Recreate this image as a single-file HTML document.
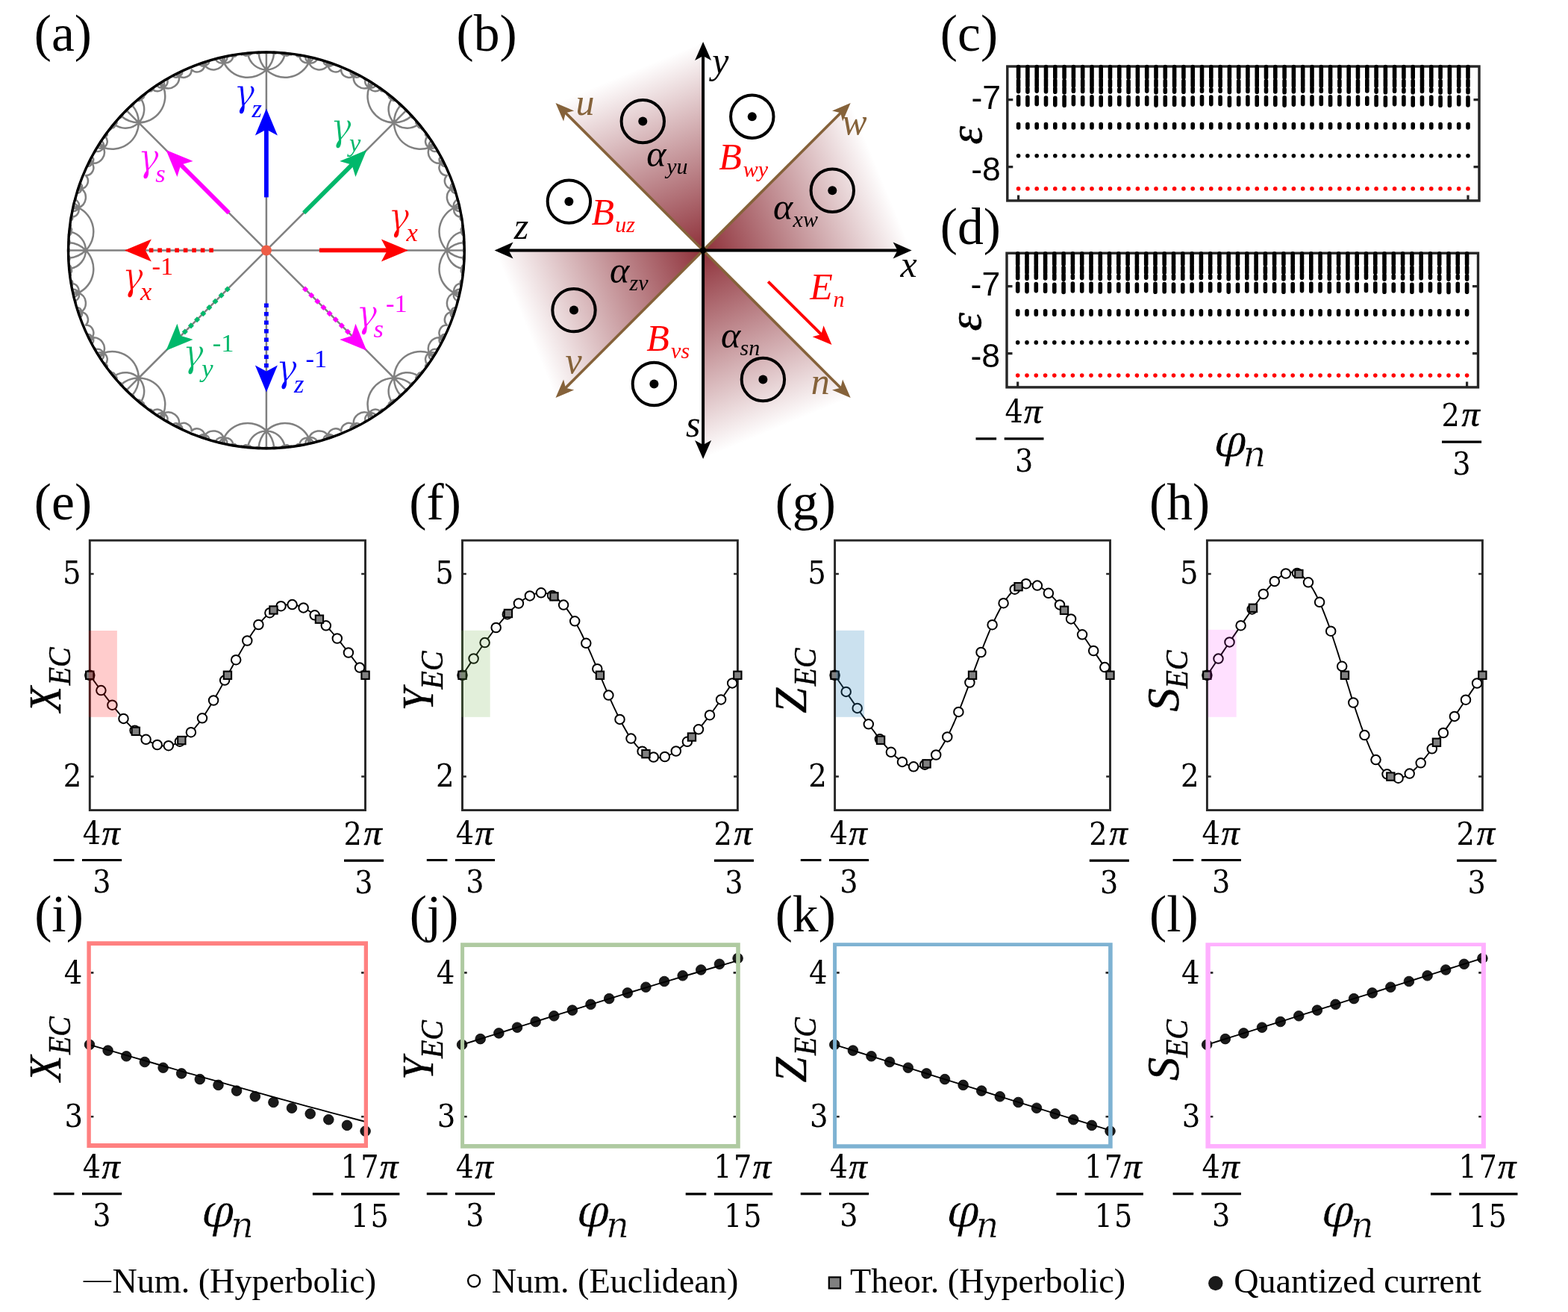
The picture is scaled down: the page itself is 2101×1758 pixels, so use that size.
<!DOCTYPE html>
<html lang="en"><head><meta charset="utf-8"><title>Figure</title>
<style>html,body{margin:0;padding:0;background:#fff}svg{display:block}text{white-space:pre}</style></head>
<body>
<svg xmlns="http://www.w3.org/2000/svg" width="2101" height="1758" viewBox="0 0 2101 1758">
<rect width="2101" height="1758" fill="#fff"/>
<g id="panel-a">
<path d="M356.9 335.4L598.9 335.4M356.9 335.4L528.0 164.3M356.9 335.4L356.9 93.4M356.9 335.4L185.8 164.3M356.9 335.4L114.9 335.4M356.9 335.4L185.8 506.5M356.9 335.4L356.9 577.4M356.9 335.4L528.0 506.5M598.9 335.4L621.6 335.4M598.9 335.4A35.4 35.4 0 0 1 621.2 325.1M598.9 335.4A25.1 25.1 0 0 1 619.3 310.8M598.9 335.4A35.4 35.4 0 0 1 608.7 278.4M598.9 335.4A35.4 35.4 0 0 0 608.7 392.4M598.9 335.4A25.1 25.1 0 0 0 619.3 360.0M598.9 335.4A35.4 35.4 0 0 0 621.2 345.7M528.0 164.3A35.4 35.4 0 0 0 551.1 155.8M528.0 164.3L544.1 148.2M528.0 164.3A35.4 35.4 0 0 1 536.5 141.2M528.0 164.3A25.1 25.1 0 0 1 525.0 132.4M528.0 164.3A35.4 35.4 0 0 1 494.6 117.0M528.0 164.3A35.4 35.4 0 0 0 575.3 197.7M528.0 164.3A25.1 25.1 0 0 0 559.9 167.3M356.9 93.4A25.1 25.1 0 0 0 381.5 73.0M356.9 93.4A35.4 35.4 0 0 0 367.2 71.1M356.9 93.4L356.9 70.7M356.9 93.4A35.4 35.4 0 0 1 346.6 71.1M356.9 93.4A25.1 25.1 0 0 1 332.3 73.0M356.9 93.4A35.4 35.4 0 0 1 299.9 83.6M356.9 93.4A35.4 35.4 0 0 0 413.9 83.6M185.8 164.3A35.4 35.4 0 0 0 219.2 117.0M185.8 164.3A25.1 25.1 0 0 0 188.8 132.4M185.8 164.3A35.4 35.4 0 0 0 177.3 141.2M185.8 164.3L169.7 148.2M185.8 164.3A35.4 35.4 0 0 1 162.7 155.8M185.8 164.3A25.1 25.1 0 0 1 153.9 167.3M185.8 164.3A35.4 35.4 0 0 1 138.5 197.7M114.9 335.4A35.4 35.4 0 0 0 105.1 278.4M114.9 335.4A25.1 25.1 0 0 0 94.5 310.8M114.9 335.4A35.4 35.4 0 0 0 92.6 325.1M114.9 335.4L92.2 335.4M114.9 335.4A35.4 35.4 0 0 1 92.6 345.7M114.9 335.4A25.1 25.1 0 0 1 94.5 360.0M114.9 335.4A35.4 35.4 0 0 1 105.1 392.4M185.8 506.5A35.4 35.4 0 0 1 219.2 553.8M185.8 506.5A35.4 35.4 0 0 0 138.5 473.1M185.8 506.5A25.1 25.1 0 0 0 153.9 503.5M185.8 506.5A35.4 35.4 0 0 0 162.7 515.0M185.8 506.5L169.7 522.6M185.8 506.5A35.4 35.4 0 0 1 177.3 529.6M185.8 506.5A25.1 25.1 0 0 1 188.8 538.4M356.9 577.4A25.1 25.1 0 0 1 381.5 597.8M356.9 577.4A35.4 35.4 0 0 1 413.9 587.2M356.9 577.4A35.4 35.4 0 0 0 299.9 587.2M356.9 577.4A25.1 25.1 0 0 0 332.3 597.8M356.9 577.4A35.4 35.4 0 0 0 346.6 599.7M356.9 577.4L356.9 600.1M356.9 577.4A35.4 35.4 0 0 1 367.2 599.7M528.0 506.5A35.4 35.4 0 0 1 551.1 515.0M528.0 506.5A25.1 25.1 0 0 1 559.9 503.5M528.0 506.5A35.4 35.4 0 0 1 575.3 473.1M528.0 506.5A35.4 35.4 0 0 0 494.6 553.8M528.0 506.5A25.1 25.1 0 0 0 525.0 538.4M528.0 506.5A35.4 35.4 0 0 0 536.5 529.6M528.0 506.5L544.1 522.6M621.6 335.4A1.7 1.7 0 0 1 622.7 334.9M621.6 335.4A1.2 1.2 0 0 1 622.7 334.2M621.6 335.4A1.7 1.7 0 0 1 622.4 332.6M621.6 335.4A1.7 1.7 0 0 0 622.4 338.2M621.6 335.4A1.2 1.2 0 0 0 622.7 336.6M621.6 335.4A1.7 1.7 0 0 0 622.7 335.9M621.2 325.1A2.0 2.0 0 0 0 622.5 325.6M621.2 325.1A35.4 35.4 0 0 1 622.5 325.0M621.2 325.1A1.9 1.9 0 0 1 622.5 324.5M621.2 325.1A1.4 1.4 0 0 1 622.4 323.7M621.2 325.1A2.0 2.0 0 0 1 622.0 321.6M621.2 325.1A1.9 1.9 0 0 0 622.3 328.2M621.2 325.1A1.4 1.4 0 0 0 622.5 326.4M619.3 310.8A2.4 2.4 0 0 0 621.6 312.7M619.3 310.8A3.7 3.7 0 0 0 621.6 311.4M619.3 310.8A25.1 25.1 0 0 1 621.5 310.5M619.3 310.8A3.0 3.0 0 0 1 621.4 309.5M619.3 310.8A2.4 2.4 0 0 1 621.1 308.0M619.3 310.8A3.7 3.7 0 0 1 620.0 304.3M619.3 310.8A3.0 3.0 0 0 0 621.5 315.5M608.7 278.4A9.3 9.3 0 0 0 617.4 290.7M608.7 278.4A8.0 8.0 0 0 0 616.9 282.9M608.7 278.4A14.7 14.7 0 0 0 616.3 278.9M608.7 278.4A35.4 35.4 0 0 1 615.7 275.9M608.7 278.4A9.3 9.3 0 0 1 614.8 272.6M608.7 278.4A8.0 8.0 0 0 1 613.0 267.4M608.7 278.4A14.7 14.7 0 0 1 604.8 252.8M608.7 392.4A9.3 9.3 0 0 1 617.4 380.1M608.7 392.4A14.7 14.7 0 0 0 604.8 418.0M608.7 392.4A8.0 8.0 0 0 0 613.0 403.4M608.7 392.4A9.3 9.3 0 0 0 614.8 398.2M608.7 392.4A35.4 35.4 0 0 0 615.7 394.9M608.7 392.4A14.7 14.7 0 0 1 616.3 391.9M608.7 392.4A8.0 8.0 0 0 1 616.9 387.9M619.3 360.0A2.4 2.4 0 0 1 621.6 358.1M619.3 360.0A3.0 3.0 0 0 1 621.5 355.3M619.3 360.0A3.7 3.7 0 0 0 620.0 366.5M619.3 360.0A2.4 2.4 0 0 0 621.1 362.8M619.3 360.0A3.0 3.0 0 0 0 621.4 361.3M619.3 360.0A25.1 25.1 0 0 0 621.5 360.3M619.3 360.0A3.7 3.7 0 0 1 621.6 359.4M621.2 345.7A2.0 2.0 0 0 1 622.5 345.2M621.2 345.7A1.4 1.4 0 0 1 622.5 344.4M621.2 345.7A1.9 1.9 0 0 1 622.3 342.6M621.2 345.7A2.0 2.0 0 0 0 622.0 349.2M621.2 345.7A1.4 1.4 0 0 0 622.4 347.1M621.2 345.7A1.9 1.9 0 0 0 622.5 346.3M621.2 345.7A35.4 35.4 0 0 0 622.5 345.8M551.1 155.8A35.4 35.4 0 0 0 552.1 154.9M551.1 155.8A2.0 2.0 0 0 1 551.7 154.5M551.1 155.8A1.4 1.4 0 0 1 551.1 153.9M551.1 155.8A1.9 1.9 0 0 1 549.7 152.8M551.1 155.8A2.0 2.0 0 0 0 554.1 157.7M551.1 155.8A1.4 1.4 0 0 0 552.9 156.0M551.1 155.8A1.9 1.9 0 0 0 552.4 155.3M544.1 148.2A1.7 1.7 0 0 0 545.2 147.8M544.1 148.2A1.7 1.7 0 0 1 544.5 147.1M544.1 148.2A1.2 1.2 0 0 1 544.0 146.6M544.1 148.2A1.7 1.7 0 0 1 542.7 145.7M544.1 148.2A1.7 1.7 0 0 0 546.6 149.6M544.1 148.2A1.2 1.2 0 0 0 545.7 148.3M536.5 141.2A1.4 1.4 0 0 0 538.4 141.2M536.5 141.2A2.0 2.0 0 0 0 537.8 140.6M536.5 141.2A35.4 35.4 0 0 1 537.4 140.2M536.5 141.2A1.9 1.9 0 0 1 537.0 139.9M536.5 141.2A1.4 1.4 0 0 1 536.3 139.4M536.5 141.2A2.0 2.0 0 0 1 534.6 138.2M536.5 141.2A1.9 1.9 0 0 0 539.5 142.6M525.0 132.4A3.0 3.0 0 0 0 529.9 134.3M525.0 132.4A2.4 2.4 0 0 0 528.0 132.2M525.0 132.4A3.7 3.7 0 0 0 527.1 131.3M525.0 132.4A25.1 25.1 0 0 1 526.4 130.7M525.0 132.4A3.0 3.0 0 0 1 525.6 130.0M525.0 132.4A2.4 2.4 0 0 1 524.4 129.2M525.0 132.4A3.7 3.7 0 0 1 521.0 127.4M494.6 117.0A9.3 9.3 0 0 0 509.5 119.6M494.6 117.0A8.0 8.0 0 0 0 503.6 114.4M494.6 117.0A14.7 14.7 0 0 0 500.4 112.0M494.6 117.0A35.4 35.4 0 0 1 497.8 110.3M494.6 117.0A9.3 9.3 0 0 1 494.8 108.6M494.6 117.0A8.0 8.0 0 0 1 489.9 106.3M494.6 117.0A14.7 14.7 0 0 1 473.8 101.7M575.3 197.7A8.0 8.0 0 0 1 577.9 188.7M575.3 197.7A9.3 9.3 0 0 1 572.7 182.8M575.3 197.7A14.7 14.7 0 0 0 590.6 218.5M575.3 197.7A8.0 8.0 0 0 0 586.0 202.4M575.3 197.7A9.3 9.3 0 0 0 583.7 197.5M575.3 197.7A35.4 35.4 0 0 0 582.0 194.5M575.3 197.7A14.7 14.7 0 0 1 580.3 191.9M559.9 167.3A3.7 3.7 0 0 1 561.0 165.2M559.9 167.3A2.4 2.4 0 0 1 560.1 164.3M559.9 167.3A3.0 3.0 0 0 1 558.0 162.4M559.9 167.3A3.7 3.7 0 0 0 564.9 171.3M559.9 167.3A2.4 2.4 0 0 0 563.1 167.9M559.9 167.3A3.0 3.0 0 0 0 562.3 166.7M559.9 167.3A25.1 25.1 0 0 0 561.6 165.9M381.5 73.0A25.1 25.1 0 0 0 381.8 70.8M381.5 73.0A3.7 3.7 0 0 1 380.9 70.7M381.5 73.0A2.4 2.4 0 0 1 379.6 70.7M381.5 73.0A3.0 3.0 0 0 1 376.8 70.8M381.5 73.0A3.7 3.7 0 0 0 388.0 72.3M381.5 73.0A2.4 2.4 0 0 0 384.3 71.2M381.5 73.0A3.0 3.0 0 0 0 382.8 70.9M367.2 71.1A1.9 1.9 0 0 0 367.8 69.8M367.2 71.1A35.4 35.4 0 0 0 367.3 69.8M367.2 71.1A2.0 2.0 0 0 1 366.7 69.8M367.2 71.1A1.4 1.4 0 0 1 365.9 69.8M367.2 71.1A1.9 1.9 0 0 1 364.1 70.0M367.2 71.1A2.0 2.0 0 0 0 370.7 70.3M367.2 71.1A1.4 1.4 0 0 0 368.6 69.9M356.9 70.7A1.2 1.2 0 0 0 358.1 69.6M356.9 70.7A1.7 1.7 0 0 0 357.4 69.6M356.9 70.7A1.7 1.7 0 0 1 356.4 69.6M356.9 70.7A1.2 1.2 0 0 1 355.7 69.6M356.9 70.7A1.7 1.7 0 0 1 354.1 69.9M356.9 70.7A1.7 1.7 0 0 0 359.7 69.9M346.6 71.1A1.9 1.9 0 0 0 349.7 70.0M346.6 71.1A1.4 1.4 0 0 0 347.9 69.8M346.6 71.1A2.0 2.0 0 0 0 347.1 69.8M346.6 71.1A35.4 35.4 0 0 1 346.5 69.8M346.6 71.1A1.9 1.9 0 0 1 346.0 69.8M346.6 71.1A1.4 1.4 0 0 1 345.2 69.9M346.6 71.1A2.0 2.0 0 0 1 343.1 70.3M332.3 73.0A3.0 3.0 0 0 0 337.0 70.8M332.3 73.0A2.4 2.4 0 0 0 334.2 70.7M332.3 73.0A3.7 3.7 0 0 0 332.9 70.7M332.3 73.0A25.1 25.1 0 0 1 332.0 70.8M332.3 73.0A3.0 3.0 0 0 1 331.0 70.9M332.3 73.0A2.4 2.4 0 0 1 329.5 71.2M332.3 73.0A3.7 3.7 0 0 1 325.8 72.3M299.9 83.6A14.7 14.7 0 0 1 274.3 87.5M299.9 83.6A9.3 9.3 0 0 0 312.2 74.9M299.9 83.6A8.0 8.0 0 0 0 304.4 75.4M299.9 83.6A14.7 14.7 0 0 0 300.4 76.0M299.9 83.6A35.4 35.4 0 0 1 297.4 76.6M299.9 83.6A9.3 9.3 0 0 1 294.1 77.5M299.9 83.6A8.0 8.0 0 0 1 288.9 79.3M413.9 83.6A14.7 14.7 0 0 1 413.4 76.0M413.9 83.6A8.0 8.0 0 0 1 409.4 75.4M413.9 83.6A9.3 9.3 0 0 1 401.6 74.9M413.9 83.6A14.7 14.7 0 0 0 439.5 87.5M413.9 83.6A8.0 8.0 0 0 0 424.9 79.3M413.9 83.6A9.3 9.3 0 0 0 419.7 77.5M413.9 83.6A35.4 35.4 0 0 0 416.4 76.6M219.2 117.0A35.4 35.4 0 0 0 216.0 110.3M219.2 117.0A14.7 14.7 0 0 1 213.4 112.0M219.2 117.0A8.0 8.0 0 0 1 210.2 114.4M219.2 117.0A9.3 9.3 0 0 1 204.3 119.6M219.2 117.0A14.7 14.7 0 0 0 240.0 101.7M219.2 117.0A8.0 8.0 0 0 0 223.9 106.3M219.2 117.0A9.3 9.3 0 0 0 219.0 108.6M188.8 132.4A3.0 3.0 0 0 0 188.2 130.0M188.8 132.4A25.1 25.1 0 0 0 187.4 130.7M188.8 132.4A3.7 3.7 0 0 1 186.7 131.3M188.8 132.4A2.4 2.4 0 0 1 185.8 132.2M188.8 132.4A3.0 3.0 0 0 1 183.9 134.3M188.8 132.4A3.7 3.7 0 0 0 192.8 127.4M188.8 132.4A2.4 2.4 0 0 0 189.4 129.2M177.3 141.2A1.4 1.4 0 0 0 177.5 139.4M177.3 141.2A1.9 1.9 0 0 0 176.8 139.9M177.3 141.2A35.4 35.4 0 0 0 176.4 140.2M177.3 141.2A2.0 2.0 0 0 1 176.0 140.6M177.3 141.2A1.4 1.4 0 0 1 175.4 141.2M177.3 141.2A1.9 1.9 0 0 1 174.3 142.6M177.3 141.2A2.0 2.0 0 0 0 179.2 138.2M169.7 148.2A1.7 1.7 0 0 0 171.1 145.7M169.7 148.2A1.2 1.2 0 0 0 169.8 146.6M169.7 148.2A1.7 1.7 0 0 0 169.3 147.1M169.7 148.2A1.7 1.7 0 0 1 168.6 147.8M169.7 148.2A1.2 1.2 0 0 1 168.1 148.3M169.7 148.2A1.7 1.7 0 0 1 167.2 149.6M162.7 155.8A1.9 1.9 0 0 0 164.1 152.8M162.7 155.8A1.4 1.4 0 0 0 162.7 153.9M162.7 155.8A2.0 2.0 0 0 0 162.1 154.5M162.7 155.8A35.4 35.4 0 0 1 161.7 154.9M162.7 155.8A1.9 1.9 0 0 1 161.4 155.3M162.7 155.8A1.4 1.4 0 0 1 160.9 156.0M162.7 155.8A2.0 2.0 0 0 1 159.7 157.7M153.9 167.3A3.7 3.7 0 0 1 148.9 171.3M153.9 167.3A3.0 3.0 0 0 0 155.8 162.4M153.9 167.3A2.4 2.4 0 0 0 153.7 164.3M153.9 167.3A3.7 3.7 0 0 0 152.8 165.2M153.9 167.3A25.1 25.1 0 0 1 152.2 165.9M153.9 167.3A3.0 3.0 0 0 1 151.5 166.7M153.9 167.3A2.4 2.4 0 0 1 150.7 167.9M138.5 197.7A8.0 8.0 0 0 1 127.8 202.4M138.5 197.7A14.7 14.7 0 0 1 123.2 218.5M138.5 197.7A9.3 9.3 0 0 0 141.1 182.8M138.5 197.7A8.0 8.0 0 0 0 135.9 188.7M138.5 197.7A14.7 14.7 0 0 0 133.5 191.9M138.5 197.7A35.4 35.4 0 0 1 131.8 194.5M138.5 197.7A9.3 9.3 0 0 1 130.1 197.5M105.1 278.4A9.3 9.3 0 0 0 99.0 272.6M105.1 278.4A35.4 35.4 0 0 0 98.1 275.9M105.1 278.4A14.7 14.7 0 0 1 97.5 278.9M105.1 278.4A8.0 8.0 0 0 1 96.9 282.9M105.1 278.4A9.3 9.3 0 0 1 96.4 290.7M105.1 278.4A14.7 14.7 0 0 0 109.0 252.8M105.1 278.4A8.0 8.0 0 0 0 100.8 267.4M94.5 310.8A2.4 2.4 0 0 0 92.7 308.0M94.5 310.8A3.0 3.0 0 0 0 92.4 309.5M94.5 310.8A25.1 25.1 0 0 0 92.3 310.5M94.5 310.8A3.7 3.7 0 0 1 92.2 311.4M94.5 310.8A2.4 2.4 0 0 1 92.2 312.7M94.5 310.8A3.0 3.0 0 0 1 92.3 315.5M94.5 310.8A3.7 3.7 0 0 0 93.8 304.3M92.6 325.1A2.0 2.0 0 0 0 91.8 321.6M92.6 325.1A1.4 1.4 0 0 0 91.4 323.7M92.6 325.1A1.9 1.9 0 0 0 91.3 324.5M92.6 325.1A35.4 35.4 0 0 0 91.3 325.0M92.6 325.1A2.0 2.0 0 0 1 91.3 325.6M92.6 325.1A1.4 1.4 0 0 1 91.3 326.4M92.6 325.1A1.9 1.9 0 0 1 91.5 328.2M92.2 335.4A1.7 1.7 0 0 0 91.4 332.6M92.2 335.4A1.2 1.2 0 0 0 91.1 334.2M92.2 335.4A1.7 1.7 0 0 0 91.1 334.9M92.2 335.4A1.7 1.7 0 0 1 91.1 335.9M92.2 335.4A1.2 1.2 0 0 1 91.1 336.6M92.2 335.4A1.7 1.7 0 0 1 91.4 338.2M92.6 345.7A2.0 2.0 0 0 1 91.8 349.2M92.6 345.7A1.9 1.9 0 0 0 91.5 342.6M92.6 345.7A1.4 1.4 0 0 0 91.3 344.4M92.6 345.7A2.0 2.0 0 0 0 91.3 345.2M92.6 345.7A35.4 35.4 0 0 1 91.3 345.8M92.6 345.7A1.9 1.9 0 0 1 91.3 346.3M92.6 345.7A1.4 1.4 0 0 1 91.4 347.1M94.5 360.0A2.4 2.4 0 0 1 92.7 362.8M94.5 360.0A3.7 3.7 0 0 1 93.8 366.5M94.5 360.0A3.0 3.0 0 0 0 92.3 355.3M94.5 360.0A2.4 2.4 0 0 0 92.2 358.1M94.5 360.0A3.7 3.7 0 0 0 92.2 359.4M94.5 360.0A25.1 25.1 0 0 1 92.3 360.3M94.5 360.0A3.0 3.0 0 0 1 92.4 361.3M105.1 392.4A9.3 9.3 0 0 1 99.0 398.2M105.1 392.4A8.0 8.0 0 0 1 100.8 403.4M105.1 392.4A14.7 14.7 0 0 1 109.0 418.0M105.1 392.4A9.3 9.3 0 0 0 96.4 380.1M105.1 392.4A8.0 8.0 0 0 0 96.9 387.9M105.1 392.4A14.7 14.7 0 0 0 97.5 391.9M105.1 392.4A35.4 35.4 0 0 1 98.1 394.9M219.2 553.8A35.4 35.4 0 0 1 216.0 560.5M219.2 553.8A9.3 9.3 0 0 1 219.0 562.2M219.2 553.8A8.0 8.0 0 0 1 223.9 564.5M219.2 553.8A14.7 14.7 0 0 1 240.0 569.1M219.2 553.8A9.3 9.3 0 0 0 204.3 551.2M219.2 553.8A8.0 8.0 0 0 0 210.2 556.4M219.2 553.8A14.7 14.7 0 0 0 213.4 558.8M138.5 473.1A8.0 8.0 0 0 0 127.8 468.4M138.5 473.1A9.3 9.3 0 0 0 130.1 473.3M138.5 473.1A35.4 35.4 0 0 0 131.8 476.3M138.5 473.1A14.7 14.7 0 0 1 133.5 478.9M138.5 473.1A8.0 8.0 0 0 1 135.9 482.1M138.5 473.1A9.3 9.3 0 0 1 141.1 488.0M138.5 473.1A14.7 14.7 0 0 0 123.2 452.3M153.9 503.5A3.7 3.7 0 0 0 148.9 499.5M153.9 503.5A2.4 2.4 0 0 0 150.7 502.9M153.9 503.5A3.0 3.0 0 0 0 151.5 504.1M153.9 503.5A25.1 25.1 0 0 0 152.2 504.9M153.9 503.5A3.7 3.7 0 0 1 152.8 505.6M153.9 503.5A2.4 2.4 0 0 1 153.7 506.5M153.9 503.5A3.0 3.0 0 0 1 155.8 508.4M162.7 515.0A2.0 2.0 0 0 0 159.7 513.1M162.7 515.0A1.4 1.4 0 0 0 160.9 514.8M162.7 515.0A1.9 1.9 0 0 0 161.4 515.5M162.7 515.0A35.4 35.4 0 0 0 161.7 515.9M162.7 515.0A2.0 2.0 0 0 1 162.1 516.3M162.7 515.0A1.4 1.4 0 0 1 162.7 516.9M162.7 515.0A1.9 1.9 0 0 1 164.1 518.0M169.7 522.6A1.7 1.7 0 0 1 171.1 525.1M169.7 522.6A1.7 1.7 0 0 0 167.2 521.2M169.7 522.6A1.2 1.2 0 0 0 168.1 522.5M169.7 522.6A1.7 1.7 0 0 0 168.6 523.0M169.7 522.6A1.7 1.7 0 0 1 169.3 523.7M169.7 522.6A1.2 1.2 0 0 1 169.8 524.2M177.3 529.6A1.4 1.4 0 0 1 177.5 531.4M177.3 529.6A2.0 2.0 0 0 1 179.2 532.6M177.3 529.6A1.9 1.9 0 0 0 174.3 528.2M177.3 529.6A1.4 1.4 0 0 0 175.4 529.6M177.3 529.6A2.0 2.0 0 0 0 176.0 530.2M177.3 529.6A35.4 35.4 0 0 1 176.4 530.6M177.3 529.6A1.9 1.9 0 0 1 176.8 530.9M188.8 538.4A3.0 3.0 0 0 1 188.2 540.8M188.8 538.4A2.4 2.4 0 0 1 189.4 541.6M188.8 538.4A3.7 3.7 0 0 1 192.8 543.4M188.8 538.4A3.0 3.0 0 0 0 183.9 536.5M188.8 538.4A2.4 2.4 0 0 0 185.8 538.6M188.8 538.4A3.7 3.7 0 0 0 186.7 539.5M188.8 538.4A25.1 25.1 0 0 1 187.4 540.1M381.5 597.8A25.1 25.1 0 0 1 381.8 600.0M381.5 597.8A3.0 3.0 0 0 1 382.8 599.9M381.5 597.8A2.4 2.4 0 0 1 384.3 599.6M381.5 597.8A3.7 3.7 0 0 1 388.0 598.5M381.5 597.8A3.0 3.0 0 0 0 376.8 600.0M381.5 597.8A2.4 2.4 0 0 0 379.6 600.1M381.5 597.8A3.7 3.7 0 0 0 380.9 600.1M413.9 587.2A14.7 14.7 0 0 0 413.4 594.8M413.9 587.2A35.4 35.4 0 0 1 416.4 594.2M413.9 587.2A9.3 9.3 0 0 1 419.7 593.3M413.9 587.2A8.0 8.0 0 0 1 424.9 591.5M413.9 587.2A14.7 14.7 0 0 1 439.5 583.3M413.9 587.2A9.3 9.3 0 0 0 401.6 595.9M413.9 587.2A8.0 8.0 0 0 0 409.4 595.4M299.9 587.2A14.7 14.7 0 0 0 274.3 583.3M299.9 587.2A8.0 8.0 0 0 0 288.9 591.5M299.9 587.2A9.3 9.3 0 0 0 294.1 593.3M299.9 587.2A35.4 35.4 0 0 0 297.4 594.2M299.9 587.2A14.7 14.7 0 0 1 300.4 594.8M299.9 587.2A8.0 8.0 0 0 1 304.4 595.4M299.9 587.2A9.3 9.3 0 0 1 312.2 595.9M332.3 597.8A3.7 3.7 0 0 0 325.8 598.5M332.3 597.8A2.4 2.4 0 0 0 329.5 599.6M332.3 597.8A3.0 3.0 0 0 0 331.0 599.9M332.3 597.8A25.1 25.1 0 0 0 332.0 600.0M332.3 597.8A3.7 3.7 0 0 1 332.9 600.1M332.3 597.8A2.4 2.4 0 0 1 334.2 600.1M332.3 597.8A3.0 3.0 0 0 1 337.0 600.0M346.6 599.7A1.9 1.9 0 0 1 349.7 600.8M346.6 599.7A2.0 2.0 0 0 0 343.1 600.5M346.6 599.7A1.4 1.4 0 0 0 345.2 600.9M346.6 599.7A1.9 1.9 0 0 0 346.0 601.0M346.6 599.7A35.4 35.4 0 0 0 346.5 601.0M346.6 599.7A2.0 2.0 0 0 1 347.1 601.0M346.6 599.7A1.4 1.4 0 0 1 347.9 601.0M356.9 600.1A1.2 1.2 0 0 1 358.1 601.2M356.9 600.1A1.7 1.7 0 0 1 359.7 600.9M356.9 600.1A1.7 1.7 0 0 0 354.1 600.9M356.9 600.1A1.2 1.2 0 0 0 355.7 601.2M356.9 600.1A1.7 1.7 0 0 0 356.4 601.2M356.9 600.1A1.7 1.7 0 0 1 357.4 601.2M367.2 599.7A1.9 1.9 0 0 1 367.8 601.0M367.2 599.7A1.4 1.4 0 0 1 368.6 600.9M367.2 599.7A2.0 2.0 0 0 1 370.7 600.5M367.2 599.7A1.9 1.9 0 0 0 364.1 600.8M367.2 599.7A1.4 1.4 0 0 0 365.9 601.0M367.2 599.7A2.0 2.0 0 0 0 366.7 601.0M367.2 599.7A35.4 35.4 0 0 1 367.3 601.0M551.1 515.0A35.4 35.4 0 0 1 552.1 515.9M551.1 515.0A1.9 1.9 0 0 1 552.4 515.5M551.1 515.0A1.4 1.4 0 0 1 552.9 514.8M551.1 515.0A2.0 2.0 0 0 1 554.1 513.1M551.1 515.0A1.9 1.9 0 0 0 549.7 518.0M551.1 515.0A1.4 1.4 0 0 0 551.1 516.9M551.1 515.0A2.0 2.0 0 0 0 551.7 516.3M559.9 503.5A3.7 3.7 0 0 0 561.0 505.6M559.9 503.5A25.1 25.1 0 0 1 561.6 504.9M559.9 503.5A3.0 3.0 0 0 1 562.3 504.1M559.9 503.5A2.4 2.4 0 0 1 563.1 502.9M559.9 503.5A3.7 3.7 0 0 1 564.9 499.5M559.9 503.5A3.0 3.0 0 0 0 558.0 508.4M559.9 503.5A2.4 2.4 0 0 0 560.1 506.5M575.3 473.1A8.0 8.0 0 0 0 577.9 482.1M575.3 473.1A14.7 14.7 0 0 0 580.3 478.9M575.3 473.1A35.4 35.4 0 0 1 582.0 476.3M575.3 473.1A9.3 9.3 0 0 1 583.7 473.3M575.3 473.1A8.0 8.0 0 0 1 586.0 468.4M575.3 473.1A14.7 14.7 0 0 1 590.6 452.3M575.3 473.1A9.3 9.3 0 0 0 572.7 488.0M494.6 553.8A14.7 14.7 0 0 0 473.8 569.1M494.6 553.8A8.0 8.0 0 0 0 489.9 564.5M494.6 553.8A9.3 9.3 0 0 0 494.8 562.2M494.6 553.8A35.4 35.4 0 0 0 497.8 560.5M494.6 553.8A14.7 14.7 0 0 1 500.4 558.8M494.6 553.8A8.0 8.0 0 0 1 503.6 556.4M494.6 553.8A9.3 9.3 0 0 1 509.5 551.2M525.0 538.4A3.0 3.0 0 0 1 529.9 536.5M525.0 538.4A3.7 3.7 0 0 0 521.0 543.4M525.0 538.4A2.4 2.4 0 0 0 524.4 541.6M525.0 538.4A3.0 3.0 0 0 0 525.6 540.8M525.0 538.4A25.1 25.1 0 0 0 526.4 540.1M525.0 538.4A3.7 3.7 0 0 1 527.1 539.5M525.0 538.4A2.4 2.4 0 0 1 528.0 538.6M536.5 529.6A1.4 1.4 0 0 1 538.4 529.6M536.5 529.6A1.9 1.9 0 0 1 539.5 528.2M536.5 529.6A2.0 2.0 0 0 0 534.6 532.6M536.5 529.6A1.4 1.4 0 0 0 536.3 531.4M536.5 529.6A1.9 1.9 0 0 0 537.0 530.9M536.5 529.6A35.4 35.4 0 0 0 537.4 530.6M536.5 529.6A2.0 2.0 0 0 1 537.8 530.2M544.1 522.6A1.7 1.7 0 0 1 545.2 523.0M544.1 522.6A1.2 1.2 0 0 1 545.7 522.5M544.1 522.6A1.7 1.7 0 0 1 546.6 521.2M544.1 522.6A1.7 1.7 0 0 0 542.7 525.1M544.1 522.6A1.2 1.2 0 0 0 544.0 524.2M544.1 522.6A1.7 1.7 0 0 0 544.5 523.7M622.4 332.6A0.7 0.7 0 0 1 622.5 331.3M622.4 338.2A0.7 0.7 0 0 0 622.5 339.5M622.0 321.6A0.9 0.9 0 0 1 622.1 320.0M622.3 328.2A0.7 0.7 0 0 0 622.5 329.5M620.0 304.3A1.9 1.9 0 0 1 619.9 300.9M620.0 304.3A1.1 1.1 0 0 0 621.0 305.9M620.0 304.3A1.0 1.0 0 0 1 620.7 303.0M621.5 315.5A0.7 0.7 0 0 1 621.8 314.4M621.5 315.5A1.1 1.1 0 0 0 621.9 317.4M617.4 290.7A9.3 9.3 0 0 0 618.9 290.6M617.4 290.7A2.7 2.7 0 0 1 618.8 290.0M617.4 290.7A1.6 1.6 0 0 1 618.6 289.2M617.4 290.7A1.9 1.9 0 0 1 618.1 287.6M617.4 290.7A2.7 2.7 0 0 0 619.0 295.3M617.4 290.7A1.6 1.6 0 0 0 619.1 292.3M617.4 290.7A1.9 1.9 0 0 0 619.0 291.2M616.9 282.9A0.8 0.8 0 0 1 617.1 281.5M616.9 282.9A0.9 0.9 0 0 0 617.6 284.4M614.8 272.6A0.7 0.7 0 0 1 614.8 271.3M613.0 267.4A1.5 1.5 0 0 1 612.8 264.7M613.0 267.4A1.2 1.2 0 0 0 614.2 269.1M613.0 267.4A0.9 0.9 0 0 1 613.5 266.2M604.8 252.8A4.9 4.9 0 0 1 606.5 245.5M604.8 252.8A10.4 10.4 0 0 1 598.9 235.2M604.8 252.8A5.2 5.2 0 0 0 610.7 258.6M604.8 252.8A4.9 4.9 0 0 0 609.9 254.6M604.8 252.8A10.4 10.4 0 0 0 609.3 252.4M604.8 252.8A14.7 14.7 0 0 1 608.7 250.7M604.8 252.8A5.2 5.2 0 0 1 608.0 248.7M617.4 380.1A9.3 9.3 0 0 1 618.9 380.2M617.4 380.1A1.9 1.9 0 0 1 619.0 379.6M617.4 380.1A1.6 1.6 0 0 1 619.1 378.5M617.4 380.1A2.7 2.7 0 0 1 619.0 375.5M617.4 380.1A1.9 1.9 0 0 0 618.1 383.2M617.4 380.1A1.6 1.6 0 0 0 618.6 381.6M617.4 380.1A2.7 2.7 0 0 0 618.8 380.8M604.8 418.0A4.9 4.9 0 0 0 606.5 425.3M604.8 418.0A5.2 5.2 0 0 0 608.0 422.1M604.8 418.0A14.7 14.7 0 0 0 608.7 420.1M604.8 418.0A10.4 10.4 0 0 1 609.3 418.4M604.8 418.0A4.9 4.9 0 0 1 609.9 416.2M604.8 418.0A5.2 5.2 0 0 1 610.7 412.2M604.8 418.0A10.4 10.4 0 0 0 598.9 435.6M613.0 403.4A1.5 1.5 0 0 0 612.8 406.1M613.0 403.4A0.9 0.9 0 0 0 613.5 404.6M613.0 403.4A1.2 1.2 0 0 1 614.2 401.7M614.8 398.2A0.7 0.7 0 0 0 614.8 399.5M616.9 387.9A0.9 0.9 0 0 1 617.6 386.4M616.9 387.9A0.8 0.8 0 0 0 617.1 389.3M621.5 355.3A1.1 1.1 0 0 1 621.9 353.4M621.5 355.3A0.7 0.7 0 0 0 621.8 356.4M620.0 366.5A1.9 1.9 0 0 0 619.9 369.9M620.0 366.5A1.0 1.0 0 0 0 620.7 367.8M620.0 366.5A1.1 1.1 0 0 1 621.0 364.9M622.3 342.6A0.7 0.7 0 0 1 622.5 341.3M622.0 349.2A0.9 0.9 0 0 0 622.1 350.8M549.7 152.8A0.7 0.7 0 0 1 548.9 151.8M554.1 157.7A0.9 0.9 0 0 0 555.3 158.8M542.7 145.7A0.7 0.7 0 0 1 541.9 144.7M546.6 149.6A0.7 0.7 0 0 0 547.6 150.4M534.6 138.2A0.9 0.9 0 0 1 533.5 137.0M539.5 142.6A0.7 0.7 0 0 0 540.5 143.4M529.9 134.3A0.7 0.7 0 0 1 529.4 133.2M529.9 134.3A1.1 1.1 0 0 0 531.5 135.3M521.0 127.4A1.0 1.0 0 0 1 520.5 126.0M521.0 127.4A1.9 1.9 0 0 1 518.5 125.1M521.0 127.4A1.1 1.1 0 0 0 522.7 127.8M509.5 119.6A1.9 1.9 0 0 0 511.0 118.8M509.5 119.6A9.3 9.3 0 0 0 510.5 118.4M509.5 119.6A2.7 2.7 0 0 1 510.0 118.1M509.5 119.6A1.6 1.6 0 0 1 509.3 117.6M509.5 119.6A1.9 1.9 0 0 1 507.8 116.9M509.5 119.6A2.7 2.7 0 0 0 513.9 121.7M509.5 119.6A1.6 1.6 0 0 0 511.8 119.5M503.6 114.4A0.8 0.8 0 0 1 502.8 113.3M503.6 114.4A0.9 0.9 0 0 0 505.2 114.9M494.8 108.6A0.7 0.7 0 0 1 493.9 107.7M489.9 106.3A0.9 0.9 0 0 1 489.4 105.0M489.9 106.3A1.5 1.5 0 0 1 487.9 104.5M489.9 106.3A1.2 1.2 0 0 0 491.9 106.6M473.8 101.7A5.2 5.2 0 0 1 473.1 96.6M473.8 101.7A4.9 4.9 0 0 1 469.8 95.4M473.8 101.7A10.4 10.4 0 0 1 457.1 93.4M473.8 101.7A5.2 5.2 0 0 0 482.1 101.7M473.8 101.7A4.9 4.9 0 0 0 478.6 99.4M473.8 101.7A10.4 10.4 0 0 0 476.7 98.3M473.8 101.7A14.7 14.7 0 0 1 475.0 97.4M577.9 188.7A0.9 0.9 0 0 1 577.4 187.1M577.9 188.7A0.8 0.8 0 0 0 579.0 189.5M572.7 182.8A2.7 2.7 0 0 0 574.2 182.3M572.7 182.8A9.3 9.3 0 0 1 573.9 181.8M572.7 182.8A1.9 1.9 0 0 1 573.5 181.3M572.7 182.8A1.6 1.6 0 0 1 572.8 180.5M572.7 182.8A2.7 2.7 0 0 1 570.6 178.4M572.7 182.8A1.9 1.9 0 0 0 575.4 184.5M572.7 182.8A1.6 1.6 0 0 0 574.7 183.0M590.6 218.5A10.4 10.4 0 0 0 598.9 235.2M590.6 218.5A4.9 4.9 0 0 0 596.9 222.5M590.6 218.5A5.2 5.2 0 0 0 595.7 219.2M590.6 218.5A14.7 14.7 0 0 0 594.9 217.3M590.6 218.5A10.4 10.4 0 0 1 594.0 215.6M590.6 218.5A4.9 4.9 0 0 1 592.9 213.7M590.6 218.5A5.2 5.2 0 0 1 590.6 210.2M586.0 202.4A1.5 1.5 0 0 0 587.8 204.4M586.0 202.4A0.9 0.9 0 0 0 587.3 202.9M586.0 202.4A1.2 1.2 0 0 1 585.7 200.4M583.7 197.5A0.7 0.7 0 0 0 584.6 198.4M558.0 162.4A1.1 1.1 0 0 1 557.0 160.8M558.0 162.4A0.7 0.7 0 0 0 559.1 162.9M564.9 171.3A1.9 1.9 0 0 0 567.2 173.8M564.9 171.3A1.0 1.0 0 0 0 566.3 171.8M564.9 171.3A1.1 1.1 0 0 1 564.5 169.6M376.8 70.8A0.7 0.7 0 0 0 377.9 70.5M376.8 70.8A1.1 1.1 0 0 1 374.9 70.4M388.0 72.3A1.1 1.1 0 0 1 386.4 71.3M388.0 72.3A1.9 1.9 0 0 0 391.4 72.4M388.0 72.3A1.0 1.0 0 0 0 389.3 71.6M364.1 70.0A0.7 0.7 0 0 1 362.8 69.8M370.7 70.3A0.9 0.9 0 0 0 372.3 70.2M354.1 69.9A0.7 0.7 0 0 1 352.8 69.8M359.7 69.9A0.7 0.7 0 0 0 361.0 69.8M349.7 70.0A0.7 0.7 0 0 0 351.0 69.8M343.1 70.3A0.9 0.9 0 0 1 341.5 70.2M337.0 70.8A0.7 0.7 0 0 1 335.9 70.5M337.0 70.8A1.1 1.1 0 0 0 338.9 70.4M325.8 72.3A1.0 1.0 0 0 1 324.5 71.6M325.8 72.3A1.9 1.9 0 0 1 322.4 72.4M325.8 72.3A1.1 1.1 0 0 0 327.4 71.3M274.3 87.5A14.7 14.7 0 0 1 272.2 83.6M274.3 87.5A5.2 5.2 0 0 1 270.2 84.3M274.3 87.5A4.9 4.9 0 0 1 267.0 85.8M274.3 87.5A10.4 10.4 0 0 1 256.7 93.4M274.3 87.5A5.2 5.2 0 0 0 280.1 81.6M274.3 87.5A4.9 4.9 0 0 0 276.1 82.4M274.3 87.5A10.4 10.4 0 0 0 273.9 83.0M312.2 74.9A1.6 1.6 0 0 0 313.8 73.2M312.2 74.9A1.9 1.9 0 0 0 312.7 73.3M312.2 74.9A9.3 9.3 0 0 0 312.1 73.4M312.2 74.9A2.7 2.7 0 0 1 311.5 73.5M312.2 74.9A1.6 1.6 0 0 1 310.7 73.7M312.2 74.9A1.9 1.9 0 0 1 309.1 74.2M312.2 74.9A2.7 2.7 0 0 0 316.8 73.3M304.4 75.4A0.9 0.9 0 0 0 305.9 74.7M304.4 75.4A0.8 0.8 0 0 1 303.0 75.2M294.1 77.5A0.7 0.7 0 0 1 292.8 77.5M288.9 79.3A0.9 0.9 0 0 1 287.7 78.8M288.9 79.3A1.5 1.5 0 0 1 286.2 79.5M288.9 79.3A1.2 1.2 0 0 0 290.6 78.1M409.4 75.4A0.9 0.9 0 0 1 407.9 74.7M409.4 75.4A0.8 0.8 0 0 0 410.8 75.2M401.6 74.9A1.6 1.6 0 0 0 403.1 73.7M401.6 74.9A2.7 2.7 0 0 0 402.3 73.5M401.6 74.9A9.3 9.3 0 0 1 401.7 73.4M401.6 74.9A1.9 1.9 0 0 1 401.1 73.3M401.6 74.9A1.6 1.6 0 0 1 400.0 73.2M401.6 74.9A2.7 2.7 0 0 1 397.0 73.3M401.6 74.9A1.9 1.9 0 0 0 404.7 74.2M439.5 87.5A10.4 10.4 0 0 0 457.1 93.4M439.5 87.5A4.9 4.9 0 0 0 446.8 85.8M439.5 87.5A5.2 5.2 0 0 0 443.6 84.3M439.5 87.5A14.7 14.7 0 0 0 441.6 83.6M439.5 87.5A10.4 10.4 0 0 1 439.9 83.0M439.5 87.5A4.9 4.9 0 0 1 437.7 82.4M439.5 87.5A5.2 5.2 0 0 1 433.7 81.6M424.9 79.3A1.2 1.2 0 0 1 423.2 78.1M424.9 79.3A1.5 1.5 0 0 0 427.6 79.5M424.9 79.3A0.9 0.9 0 0 0 426.1 78.8M419.7 77.5A0.7 0.7 0 0 0 421.0 77.5M210.2 114.4A0.9 0.9 0 0 1 208.6 114.9M210.2 114.4A0.8 0.8 0 0 0 211.0 113.3M204.3 119.6A1.9 1.9 0 0 0 206.0 116.9M204.3 119.6A1.6 1.6 0 0 0 204.5 117.6M204.3 119.6A2.7 2.7 0 0 0 203.8 118.1M204.3 119.6A9.3 9.3 0 0 1 203.3 118.4M204.3 119.6A1.9 1.9 0 0 1 202.8 118.8M204.3 119.6A1.6 1.6 0 0 1 202.0 119.5M204.3 119.6A2.7 2.7 0 0 1 199.9 121.7M240.0 101.7A5.2 5.2 0 0 1 231.7 101.7M240.0 101.7A10.4 10.4 0 0 0 256.7 93.4M240.0 101.7A4.9 4.9 0 0 0 244.0 95.4M240.0 101.7A5.2 5.2 0 0 0 240.7 96.6M240.0 101.7A14.7 14.7 0 0 0 238.8 97.4M240.0 101.7A10.4 10.4 0 0 1 237.1 98.3M240.0 101.7A4.9 4.9 0 0 1 235.2 99.4M223.9 106.3A1.2 1.2 0 0 1 221.9 106.6M223.9 106.3A1.5 1.5 0 0 0 225.9 104.5M223.9 106.3A0.9 0.9 0 0 0 224.4 105.0M219.0 108.6A0.7 0.7 0 0 0 219.9 107.7M183.9 134.3A0.7 0.7 0 0 0 184.4 133.2M183.9 134.3A1.1 1.1 0 0 1 182.3 135.3M192.8 127.4A1.1 1.1 0 0 1 191.1 127.8M192.8 127.4A1.9 1.9 0 0 0 195.3 125.1M192.8 127.4A1.0 1.0 0 0 0 193.3 126.0M174.3 142.6A0.7 0.7 0 0 1 173.3 143.4M179.2 138.2A0.9 0.9 0 0 0 180.3 137.0M171.1 145.7A0.7 0.7 0 0 0 171.9 144.7M167.2 149.6A0.7 0.7 0 0 1 166.2 150.4M164.1 152.8A0.7 0.7 0 0 0 164.9 151.8M159.7 157.7A0.9 0.9 0 0 1 158.5 158.8M148.9 171.3A1.0 1.0 0 0 1 147.5 171.8M148.9 171.3A1.9 1.9 0 0 1 146.6 173.8M148.9 171.3A1.1 1.1 0 0 0 149.3 169.6M155.8 162.4A0.7 0.7 0 0 1 154.7 162.9M155.8 162.4A1.1 1.1 0 0 0 156.8 160.8M127.8 202.4A0.9 0.9 0 0 1 126.5 202.9M127.8 202.4A1.5 1.5 0 0 1 126.0 204.4M127.8 202.4A1.2 1.2 0 0 0 128.1 200.4M123.2 218.5A10.4 10.4 0 0 0 119.8 215.6M123.2 218.5A14.7 14.7 0 0 1 118.9 217.3M123.2 218.5A5.2 5.2 0 0 1 118.1 219.2M123.2 218.5A4.9 4.9 0 0 1 116.9 222.5M123.2 218.5A10.4 10.4 0 0 1 114.9 235.2M123.2 218.5A5.2 5.2 0 0 0 123.2 210.2M123.2 218.5A4.9 4.9 0 0 0 120.9 213.7M141.1 182.8A2.7 2.7 0 0 0 143.2 178.4M141.1 182.8A1.6 1.6 0 0 0 141.0 180.5M141.1 182.8A1.9 1.9 0 0 0 140.3 181.3M141.1 182.8A9.3 9.3 0 0 0 139.9 181.8M141.1 182.8A2.7 2.7 0 0 1 139.6 182.3M141.1 182.8A1.6 1.6 0 0 1 139.1 183.0M141.1 182.8A1.9 1.9 0 0 1 138.4 184.5M135.9 188.7A0.9 0.9 0 0 0 136.4 187.1M135.9 188.7A0.8 0.8 0 0 1 134.8 189.5M130.1 197.5A0.7 0.7 0 0 1 129.2 198.4M99.0 272.6A0.7 0.7 0 0 0 99.0 271.3M96.9 282.9A0.8 0.8 0 0 0 96.7 281.5M96.9 282.9A0.9 0.9 0 0 1 96.2 284.4M96.4 290.7A1.9 1.9 0 0 0 95.7 287.6M96.4 290.7A1.6 1.6 0 0 0 95.2 289.2M96.4 290.7A2.7 2.7 0 0 0 95.0 290.0M96.4 290.7A9.3 9.3 0 0 1 94.9 290.6M96.4 290.7A1.9 1.9 0 0 1 94.8 291.2M96.4 290.7A1.6 1.6 0 0 1 94.7 292.3M96.4 290.7A2.7 2.7 0 0 1 94.8 295.3M109.0 252.8A4.9 4.9 0 0 1 103.9 254.6M109.0 252.8A5.2 5.2 0 0 1 103.1 258.6M109.0 252.8A10.4 10.4 0 0 0 114.9 235.2M109.0 252.8A4.9 4.9 0 0 0 107.3 245.5M109.0 252.8A5.2 5.2 0 0 0 105.8 248.7M109.0 252.8A14.7 14.7 0 0 0 105.1 250.7M109.0 252.8A10.4 10.4 0 0 1 104.5 252.4M100.8 267.4A1.2 1.2 0 0 1 99.6 269.1M100.8 267.4A1.5 1.5 0 0 0 101.0 264.7M100.8 267.4A0.9 0.9 0 0 0 100.3 266.2M92.3 315.5A1.1 1.1 0 0 1 91.9 317.4M92.3 315.5A0.7 0.7 0 0 0 92.0 314.4M93.8 304.3A1.1 1.1 0 0 1 92.8 305.9M93.8 304.3A1.9 1.9 0 0 0 93.9 300.9M93.8 304.3A1.0 1.0 0 0 0 93.1 303.0M91.8 321.6A0.9 0.9 0 0 0 91.7 320.0M91.5 328.2A0.7 0.7 0 0 1 91.3 329.5M91.4 332.6A0.7 0.7 0 0 0 91.3 331.3M91.4 338.2A0.7 0.7 0 0 1 91.3 339.5M91.8 349.2A0.9 0.9 0 0 1 91.7 350.8M91.5 342.6A0.7 0.7 0 0 0 91.3 341.3M93.8 366.5A1.0 1.0 0 0 1 93.1 367.8M93.8 366.5A1.9 1.9 0 0 1 93.9 369.9M93.8 366.5A1.1 1.1 0 0 0 92.8 364.9M92.3 355.3A1.1 1.1 0 0 0 91.9 353.4M92.3 355.3A0.7 0.7 0 0 1 92.0 356.4M99.0 398.2A0.7 0.7 0 0 1 99.0 399.5M100.8 403.4A0.9 0.9 0 0 1 100.3 404.6M100.8 403.4A1.5 1.5 0 0 1 101.0 406.1M100.8 403.4A1.2 1.2 0 0 0 99.6 401.7M109.0 418.0A4.9 4.9 0 0 0 103.9 416.2M109.0 418.0A10.4 10.4 0 0 0 104.5 418.4M109.0 418.0A14.7 14.7 0 0 1 105.1 420.1M109.0 418.0A5.2 5.2 0 0 1 105.8 422.1M109.0 418.0A4.9 4.9 0 0 1 107.3 425.3M109.0 418.0A10.4 10.4 0 0 1 114.9 435.6M109.0 418.0A5.2 5.2 0 0 0 103.1 412.2M96.4 380.1A2.7 2.7 0 0 0 94.8 375.5M96.4 380.1A1.6 1.6 0 0 0 94.7 378.5M96.4 380.1A1.9 1.9 0 0 0 94.8 379.6M96.4 380.1A9.3 9.3 0 0 0 94.9 380.2M96.4 380.1A2.7 2.7 0 0 1 95.0 380.8M96.4 380.1A1.6 1.6 0 0 1 95.2 381.6M96.4 380.1A1.9 1.9 0 0 1 95.7 383.2M96.9 387.9A0.8 0.8 0 0 1 96.7 389.3M96.9 387.9A0.9 0.9 0 0 0 96.2 386.4M219.0 562.2A0.7 0.7 0 0 1 219.9 563.1M223.9 564.5A0.9 0.9 0 0 1 224.4 565.8M223.9 564.5A1.5 1.5 0 0 1 225.9 566.3M223.9 564.5A1.2 1.2 0 0 0 221.9 564.2M240.0 569.1A5.2 5.2 0 0 0 231.7 569.1M240.0 569.1A4.9 4.9 0 0 0 235.2 571.4M240.0 569.1A10.4 10.4 0 0 0 237.1 572.5M240.0 569.1A14.7 14.7 0 0 1 238.8 573.4M240.0 569.1A5.2 5.2 0 0 1 240.7 574.2M240.0 569.1A4.9 4.9 0 0 1 244.0 575.4M240.0 569.1A10.4 10.4 0 0 1 256.7 577.4M204.3 551.2A1.9 1.9 0 0 1 206.0 553.9M204.3 551.2A2.7 2.7 0 0 0 199.9 549.1M204.3 551.2A1.6 1.6 0 0 0 202.0 551.3M204.3 551.2A1.9 1.9 0 0 0 202.8 552.0M204.3 551.2A9.3 9.3 0 0 0 203.3 552.4M204.3 551.2A2.7 2.7 0 0 1 203.8 552.7M204.3 551.2A1.6 1.6 0 0 1 204.5 553.2M210.2 556.4A0.8 0.8 0 0 1 211.0 557.5M210.2 556.4A0.9 0.9 0 0 0 208.6 555.9M127.8 468.4A1.2 1.2 0 0 1 128.1 470.4M127.8 468.4A1.5 1.5 0 0 0 126.0 466.4M127.8 468.4A0.9 0.9 0 0 0 126.5 467.9M130.1 473.3A0.7 0.7 0 0 0 129.2 472.4M135.9 482.1A0.8 0.8 0 0 0 134.8 481.3M135.9 482.1A0.9 0.9 0 0 1 136.4 483.7M141.1 488.0A2.7 2.7 0 0 1 143.2 492.4M141.1 488.0A1.9 1.9 0 0 0 138.4 486.3M141.1 488.0A1.6 1.6 0 0 0 139.1 487.8M141.1 488.0A2.7 2.7 0 0 0 139.6 488.5M141.1 488.0A9.3 9.3 0 0 1 139.9 489.0M141.1 488.0A1.9 1.9 0 0 1 140.3 489.5M141.1 488.0A1.6 1.6 0 0 1 141.0 490.3M123.2 452.3A10.4 10.4 0 0 1 119.8 455.2M123.2 452.3A4.9 4.9 0 0 1 120.9 457.1M123.2 452.3A5.2 5.2 0 0 1 123.2 460.6M123.2 452.3A10.4 10.4 0 0 0 114.9 435.6M123.2 452.3A4.9 4.9 0 0 0 116.9 448.3M123.2 452.3A5.2 5.2 0 0 0 118.1 451.6M123.2 452.3A14.7 14.7 0 0 0 118.9 453.5M148.9 499.5A1.1 1.1 0 0 1 149.3 501.2M148.9 499.5A1.9 1.9 0 0 0 146.6 497.0M148.9 499.5A1.0 1.0 0 0 0 147.5 499.0M155.8 508.4A1.1 1.1 0 0 1 156.8 510.0M155.8 508.4A0.7 0.7 0 0 0 154.7 507.9M159.7 513.1A0.9 0.9 0 0 0 158.5 512.0M164.1 518.0A0.7 0.7 0 0 1 164.9 519.0M171.1 525.1A0.7 0.7 0 0 1 171.9 526.1M167.2 521.2A0.7 0.7 0 0 0 166.2 520.4M179.2 532.6A0.9 0.9 0 0 1 180.3 533.8M174.3 528.2A0.7 0.7 0 0 0 173.3 527.4M192.8 543.4A1.0 1.0 0 0 1 193.3 544.8M192.8 543.4A1.9 1.9 0 0 1 195.3 545.7M192.8 543.4A1.1 1.1 0 0 0 191.1 543.0M183.9 536.5A1.1 1.1 0 0 0 182.3 535.5M183.9 536.5A0.7 0.7 0 0 1 184.4 537.6M388.0 598.5A1.1 1.1 0 0 0 386.4 599.5M388.0 598.5A1.0 1.0 0 0 1 389.3 599.2M388.0 598.5A1.9 1.9 0 0 1 391.4 598.4M376.8 600.0A0.7 0.7 0 0 1 377.9 600.3M376.8 600.0A1.1 1.1 0 0 0 374.9 600.4M419.7 593.3A0.7 0.7 0 0 1 421.0 593.3M424.9 591.5A1.2 1.2 0 0 0 423.2 592.7M424.9 591.5A0.9 0.9 0 0 1 426.1 592.0M424.9 591.5A1.5 1.5 0 0 1 427.6 591.3M439.5 583.3A5.2 5.2 0 0 0 433.7 589.2M439.5 583.3A4.9 4.9 0 0 0 437.7 588.4M439.5 583.3A10.4 10.4 0 0 0 439.9 587.8M439.5 583.3A14.7 14.7 0 0 1 441.6 587.2M439.5 583.3A5.2 5.2 0 0 1 443.6 586.5M439.5 583.3A4.9 4.9 0 0 1 446.8 585.0M439.5 583.3A10.4 10.4 0 0 1 457.1 577.4M401.6 595.9A1.6 1.6 0 0 1 403.1 597.1M401.6 595.9A1.9 1.9 0 0 1 404.7 596.6M401.6 595.9A2.7 2.7 0 0 0 397.0 597.5M401.6 595.9A1.6 1.6 0 0 0 400.0 597.6M401.6 595.9A1.9 1.9 0 0 0 401.1 597.5M401.6 595.9A9.3 9.3 0 0 0 401.7 597.4M401.6 595.9A2.7 2.7 0 0 1 402.3 597.3M409.4 595.4A0.8 0.8 0 0 1 410.8 595.6M409.4 595.4A0.9 0.9 0 0 0 407.9 596.1M274.3 583.3A14.7 14.7 0 0 0 272.2 587.2M274.3 583.3A10.4 10.4 0 0 1 273.9 587.8M274.3 583.3A4.9 4.9 0 0 1 276.1 588.4M274.3 583.3A5.2 5.2 0 0 1 280.1 589.2M274.3 583.3A10.4 10.4 0 0 0 256.7 577.4M274.3 583.3A4.9 4.9 0 0 0 267.0 585.0M274.3 583.3A5.2 5.2 0 0 0 270.2 586.5M288.9 591.5A1.2 1.2 0 0 1 290.6 592.7M288.9 591.5A1.5 1.5 0 0 0 286.2 591.3M288.9 591.5A0.9 0.9 0 0 0 287.7 592.0M294.1 593.3A0.7 0.7 0 0 0 292.8 593.3M304.4 595.4A0.9 0.9 0 0 1 305.9 596.1M304.4 595.4A0.8 0.8 0 0 0 303.0 595.6M312.2 595.9A1.6 1.6 0 0 1 313.8 597.6M312.2 595.9A2.7 2.7 0 0 1 316.8 597.5M312.2 595.9A1.9 1.9 0 0 0 309.1 596.6M312.2 595.9A1.6 1.6 0 0 0 310.7 597.1M312.2 595.9A2.7 2.7 0 0 0 311.5 597.3M312.2 595.9A9.3 9.3 0 0 1 312.1 597.4M312.2 595.9A1.9 1.9 0 0 1 312.7 597.5M325.8 598.5A1.1 1.1 0 0 1 327.4 599.5M325.8 598.5A1.9 1.9 0 0 0 322.4 598.4M325.8 598.5A1.0 1.0 0 0 0 324.5 599.2M337.0 600.0A1.1 1.1 0 0 1 338.9 600.4M337.0 600.0A0.7 0.7 0 0 0 335.9 600.3M349.7 600.8A0.7 0.7 0 0 1 351.0 601.0M343.1 600.5A0.9 0.9 0 0 0 341.5 600.6M359.7 600.9A0.7 0.7 0 0 1 361.0 601.0M354.1 600.9A0.7 0.7 0 0 0 352.8 601.0M370.7 600.5A0.9 0.9 0 0 1 372.3 600.6M364.1 600.8A0.7 0.7 0 0 0 362.8 601.0M554.1 513.1A0.9 0.9 0 0 1 555.3 512.0M549.7 518.0A0.7 0.7 0 0 0 548.9 519.0M564.9 499.5A1.1 1.1 0 0 0 564.5 501.2M564.9 499.5A1.0 1.0 0 0 1 566.3 499.0M564.9 499.5A1.9 1.9 0 0 1 567.2 497.0M558.0 508.4A0.7 0.7 0 0 1 559.1 507.9M558.0 508.4A1.1 1.1 0 0 0 557.0 510.0M577.9 482.1A0.8 0.8 0 0 1 579.0 481.3M577.9 482.1A0.9 0.9 0 0 0 577.4 483.7M583.7 473.3A0.7 0.7 0 0 1 584.6 472.4M586.0 468.4A1.2 1.2 0 0 0 585.7 470.4M586.0 468.4A0.9 0.9 0 0 1 587.3 467.9M586.0 468.4A1.5 1.5 0 0 1 587.8 466.4M590.6 452.3A10.4 10.4 0 0 1 598.9 435.6M590.6 452.3A5.2 5.2 0 0 0 590.6 460.6M590.6 452.3A4.9 4.9 0 0 0 592.9 457.1M590.6 452.3A10.4 10.4 0 0 0 594.0 455.2M590.6 452.3A14.7 14.7 0 0 1 594.9 453.5M590.6 452.3A5.2 5.2 0 0 1 595.7 451.6M590.6 452.3A4.9 4.9 0 0 1 596.9 448.3M572.7 488.0A2.7 2.7 0 0 1 574.2 488.5M572.7 488.0A1.6 1.6 0 0 1 574.7 487.8M572.7 488.0A1.9 1.9 0 0 1 575.4 486.3M572.7 488.0A2.7 2.7 0 0 0 570.6 492.4M572.7 488.0A1.6 1.6 0 0 0 572.8 490.3M572.7 488.0A1.9 1.9 0 0 0 573.5 489.5M572.7 488.0A9.3 9.3 0 0 0 573.9 489.0M473.8 569.1A5.2 5.2 0 0 0 473.1 574.2M473.8 569.1A14.7 14.7 0 0 0 475.0 573.4M473.8 569.1A10.4 10.4 0 0 1 476.7 572.5M473.8 569.1A4.9 4.9 0 0 1 478.6 571.4M473.8 569.1A5.2 5.2 0 0 1 482.1 569.1M473.8 569.1A10.4 10.4 0 0 0 457.1 577.4M473.8 569.1A4.9 4.9 0 0 0 469.8 575.4M489.9 564.5A0.9 0.9 0 0 0 489.4 565.8M489.9 564.5A1.2 1.2 0 0 1 491.9 564.2M489.9 564.5A1.5 1.5 0 0 0 487.9 566.3M494.8 562.2A0.7 0.7 0 0 0 493.9 563.1M503.6 556.4A0.9 0.9 0 0 1 505.2 555.9M503.6 556.4A0.8 0.8 0 0 0 502.8 557.5M509.5 551.2A1.9 1.9 0 0 1 511.0 552.0M509.5 551.2A1.6 1.6 0 0 1 511.8 551.3M509.5 551.2A2.7 2.7 0 0 1 513.9 549.1M509.5 551.2A1.9 1.9 0 0 0 507.8 553.9M509.5 551.2A1.6 1.6 0 0 0 509.3 553.2M509.5 551.2A2.7 2.7 0 0 0 510.0 552.7M509.5 551.2A9.3 9.3 0 0 1 510.5 552.4M529.9 536.5A1.1 1.1 0 0 1 531.5 535.5M529.9 536.5A0.7 0.7 0 0 0 529.4 537.6M521.0 543.4A1.0 1.0 0 0 0 520.5 544.8M521.0 543.4A1.1 1.1 0 0 1 522.7 543.0M521.0 543.4A1.9 1.9 0 0 0 518.5 545.7M539.5 528.2A0.7 0.7 0 0 1 540.5 527.4M534.6 532.6A0.9 0.9 0 0 0 533.5 533.8M546.6 521.2A0.7 0.7 0 0 1 547.6 520.4M542.7 525.1A0.7 0.7 0 0 0 541.9 526.1" fill="none" stroke="#808080" stroke-width="2.5" stroke-linecap="round"/>
<circle cx="356.9" cy="335.4" r="265.4" fill="none" stroke="#000" stroke-width="3.4"/>
<line x1="427.9" y1="335.4" x2="519.9" y2="335.4" stroke="#FF0000" stroke-width="5.8"/>
<polygon points="546.9,335.4 510.9,350.4 518.9,335.4 510.9,320.4" fill="#FF0000"/>
<line x1="407.1" y1="285.2" x2="472.2" y2="220.1" stroke="#00B86B" stroke-width="5.8"/>
<polygon points="491.3,201.0 476.4,237.1 471.5,220.8 455.2,215.9" fill="#00B86B"/>
<line x1="356.9" y1="264.4" x2="356.9" y2="172.4" stroke="#0000FF" stroke-width="5.8"/>
<polygon points="356.9,145.4 371.9,181.4 356.9,173.4 341.9,181.4" fill="#0000FF"/>
<line x1="306.7" y1="285.2" x2="241.6" y2="220.1" stroke="#FF00FF" stroke-width="5.8"/>
<polygon points="222.5,201.0 258.6,215.9 242.3,220.8 237.4,237.1" fill="#FF00FF"/>
<line x1="285.9" y1="335.4" x2="199.8" y2="335.4" stroke="#FF0000" stroke-width="5.8" stroke-dasharray="5.6 5.9"/>
<polygon points="166.9,335.4 202.9,320.4 194.9,335.4 202.9,350.4" fill="#FF0000"/>
<line x1="306.7" y1="385.6" x2="245.8" y2="446.5" stroke="#00B86B" stroke-width="5.8" stroke-dasharray="5.6 5.9"/>
<polygon points="222.5,469.8 237.4,433.7 242.3,450.0 258.6,454.9" fill="#00B86B"/>
<line x1="356.9" y1="406.4" x2="356.9" y2="492.5" stroke="#0000FF" stroke-width="5.8" stroke-dasharray="5.6 5.9"/>
<polygon points="356.9,525.4 341.9,489.4 356.9,497.4 371.9,489.4" fill="#0000FF"/>
<line x1="407.1" y1="385.6" x2="468.0" y2="446.5" stroke="#FF00FF" stroke-width="5.8" stroke-dasharray="5.6 5.9"/>
<polygon points="491.3,469.8 455.2,454.9 471.5,450.0 476.4,433.7" fill="#FF00FF"/>
<circle cx="356.9" cy="335.5" r="7" fill="#EE5D46"/>
<text font-family="'Liberation Serif', 'DejaVu Serif', serif" fill="#FF0000" font-size="34.5"><tspan x="520.0" y="308.0" font-family="'DejaVu Serif Condensed', 'DejaVu Serif', 'Liberation Serif', serif" font-size="52.4" font-style="italic" stroke="#fff" stroke-width="1">γ</tspan><tspan x="544.5" y="322.5" font-style="italic">x</tspan></text>
<text font-family="'Liberation Serif', 'DejaVu Serif', serif" fill="#00B86B" font-size="34.5"><tspan x="442.4" y="188.3" font-family="'DejaVu Serif Condensed', 'DejaVu Serif', 'Liberation Serif', serif" font-size="52.4" font-style="italic" stroke="#fff" stroke-width="1">γ</tspan><tspan x="468.1" y="202.8" font-style="italic">y</tspan></text>
<text font-family="'Liberation Serif', 'DejaVu Serif', serif" fill="#0000FF" font-size="34.5"><tspan x="313.0" y="142.0" font-family="'DejaVu Serif Condensed', 'DejaVu Serif', 'Liberation Serif', serif" font-size="52.4" font-style="italic" stroke="#fff" stroke-width="1">γ</tspan><tspan x="337.5" y="156.5" font-style="italic">z</tspan></text>
<text font-family="'Liberation Serif', 'DejaVu Serif', serif" fill="#FF00FF" font-size="34.5"><tspan x="184.5" y="229.1" font-family="'DejaVu Serif Condensed', 'DejaVu Serif', 'Liberation Serif', serif" font-size="52.4" font-style="italic" stroke="#fff" stroke-width="1">γ</tspan><tspan x="208.2" y="243.6" font-style="italic">s</tspan></text>
<text font-family="'Liberation Serif', 'DejaVu Serif', serif" fill="#FF0000" font-size="34.5"><tspan x="163.4" y="387.9" font-family="'DejaVu Serif Condensed', 'DejaVu Serif', 'Liberation Serif', serif" font-size="52.4" font-style="italic" stroke="#fff" stroke-width="1">γ</tspan><tspan x="187.9" y="402.4" font-style="italic">x</tspan><tspan x="203.5" y="368.4">-1</tspan></text>
<text font-family="'Liberation Serif', 'DejaVu Serif', serif" fill="#00B86B" font-size="34.5"><tspan x="244.6" y="490.7" font-family="'DejaVu Serif Condensed', 'DejaVu Serif', 'Liberation Serif', serif" font-size="52.4" font-style="italic" stroke="#fff" stroke-width="1">γ</tspan><tspan x="270.3" y="505.2" font-style="italic">y</tspan><tspan x="284.7" y="471.2">-1</tspan></text>
<text font-family="'Liberation Serif', 'DejaVu Serif', serif" fill="#0000FF" font-size="34.5"><tspan x="369.5" y="511.0" font-family="'DejaVu Serif Condensed', 'DejaVu Serif', 'Liberation Serif', serif" font-size="52.4" font-style="italic" stroke="#fff" stroke-width="1">γ</tspan><tspan x="394.0" y="525.5" font-style="italic">z</tspan><tspan x="409.6" y="491.5">-1</tspan></text>
<text font-family="'Liberation Serif', 'DejaVu Serif', serif" fill="#FF00FF" font-size="34.5"><tspan x="476.9" y="437.9" font-family="'DejaVu Serif Condensed', 'DejaVu Serif', 'Liberation Serif', serif" font-size="52.4" font-style="italic" stroke="#fff" stroke-width="1">γ</tspan><tspan x="500.6" y="452.4" font-style="italic">s</tspan><tspan x="517.0" y="418.4">-1</tspan></text>
</g>
<g id="panel-b">
<defs>
<linearGradient id="wg0" gradientUnits="userSpaceOnUse" x1="942.1" y1="335.5" x2="1180.5" y2="236.8"><stop offset="0" stop-color="#8E3039" stop-opacity="1"/><stop offset="0.5" stop-color="#8E3039" stop-opacity="0.5"/><stop offset="1" stop-color="#8E3039" stop-opacity="0"/></linearGradient>
<linearGradient id="wg1" gradientUnits="userSpaceOnUse" x1="942.1" y1="335.5" x2="843.4" y2="97.1"><stop offset="0" stop-color="#8E3039" stop-opacity="1"/><stop offset="0.5" stop-color="#8E3039" stop-opacity="0.5"/><stop offset="1" stop-color="#8E3039" stop-opacity="0"/></linearGradient>
<linearGradient id="wg2" gradientUnits="userSpaceOnUse" x1="942.1" y1="335.5" x2="703.7" y2="434.2"><stop offset="0" stop-color="#8E3039" stop-opacity="1"/><stop offset="0.5" stop-color="#8E3039" stop-opacity="0.5"/><stop offset="1" stop-color="#8E3039" stop-opacity="0"/></linearGradient>
<linearGradient id="wg3" gradientUnits="userSpaceOnUse" x1="942.1" y1="335.5" x2="1040.8" y2="573.9"><stop offset="0" stop-color="#8E3039" stop-opacity="1"/><stop offset="0.5" stop-color="#8E3039" stop-opacity="0.5"/><stop offset="1" stop-color="#8E3039" stop-opacity="0"/></linearGradient>
</defs>
<polygon points="942.1,335.5 1242.1,335.5 1154.2,123.4" fill="url(#wg0)"/>
<polygon points="942.1,335.5 942.1,35.5 730.0,123.4" fill="url(#wg1)"/>
<polygon points="942.1,335.5 642.1,335.5 730.0,547.6" fill="url(#wg2)"/>
<polygon points="942.1,335.5 942.1,635.5 1154.2,547.6" fill="url(#wg3)"/>
<line x1="942.1" y1="335.5" x2="1126.7" y2="150.9" stroke="#85623A" stroke-width="3.6"/>
<polygon points="1139.7,137.9 1129.1,162.6 1126.3,151.3 1115.0,148.5" fill="#85623A"/>
<line x1="942.1" y1="335.5" x2="757.5" y2="150.9" stroke="#85623A" stroke-width="3.6"/>
<polygon points="744.5,137.9 769.2,148.5 757.9,151.3 755.1,162.6" fill="#85623A"/>
<line x1="942.1" y1="335.5" x2="757.5" y2="520.1" stroke="#85623A" stroke-width="3.6"/>
<polygon points="744.5,533.1 755.1,508.4 757.9,519.7 769.2,522.5" fill="#85623A"/>
<line x1="942.1" y1="335.5" x2="1126.7" y2="520.1" stroke="#85623A" stroke-width="3.6"/>
<polygon points="1139.7,533.1 1115.0,522.5 1126.3,519.7 1129.1,508.4" fill="#85623A"/>
<line x1="942.1" y1="335.5" x2="1203.1" y2="335.5" stroke="#000" stroke-width="4.0"/>
<polygon points="1221.6,335.5 1196.6,346.5 1202.6,335.5 1196.6,324.5" fill="#000"/>
<line x1="942.1" y1="335.5" x2="942.1" y2="74.5" stroke="#000" stroke-width="4.0"/>
<polygon points="942.1,56.0 953.1,81.0 942.1,75.0 931.1,81.0" fill="#000"/>
<line x1="942.1" y1="335.5" x2="681.1" y2="335.5" stroke="#000" stroke-width="4.0"/>
<polygon points="662.6,335.5 687.6,324.5 681.6,335.5 687.6,346.5" fill="#000"/>
<line x1="942.1" y1="335.5" x2="942.1" y2="596.5" stroke="#000" stroke-width="4.0"/>
<polygon points="942.1,615.0 931.1,590.0 942.1,596.0 953.1,590.0" fill="#000"/>
<circle cx="942.1" cy="335.5" r="4.2" fill="#000"/>
<circle cx="861.3" cy="162.6" r="28.7" fill="none" stroke="#000" stroke-width="4"/><circle cx="861.3" cy="162.6" r="6" fill="#000"/>
<circle cx="762.4" cy="270.1" r="28.7" fill="none" stroke="#000" stroke-width="4"/><circle cx="762.4" cy="270.1" r="6" fill="#000"/>
<circle cx="1007.8" cy="156.2" r="28.7" fill="none" stroke="#000" stroke-width="4"/><circle cx="1007.8" cy="156.2" r="6" fill="#000"/>
<circle cx="1115.3" cy="255.3" r="28.7" fill="none" stroke="#000" stroke-width="4"/><circle cx="1115.3" cy="255.3" r="6" fill="#000"/>
<circle cx="769.0" cy="415.6" r="28.7" fill="none" stroke="#000" stroke-width="4"/><circle cx="769.0" cy="415.6" r="6" fill="#000"/>
<circle cx="876.4" cy="514.5" r="28.7" fill="none" stroke="#000" stroke-width="4"/><circle cx="876.4" cy="514.5" r="6" fill="#000"/>
<circle cx="1022.4" cy="508.5" r="28.7" fill="none" stroke="#000" stroke-width="4"/><circle cx="1022.4" cy="508.5" r="6" fill="#000"/>
<line x1="1029.3" y1="377.4" x2="1100.7" y2="448.4" stroke="#FF0000" stroke-width="4.0"/>
<polygon points="1114.5,462.1 1088.7,451.2 1100.3,448.0 1103.5,436.3" fill="#FF0000"/>
<text font-family="'Liberation Serif', 'DejaVu Serif', serif" fill="#000" font-size="50.0"><tspan x="866.2" y="223.1" font-style="italic">α</tspan><tspan x="893.3" y="233.1" font-size="30.0" font-style="italic">yu</tspan></text>
<text font-family="'Liberation Serif', 'DejaVu Serif', serif" fill="#000" font-size="50.0"><tspan x="1036.0" y="294.1" font-style="italic">α</tspan><tspan x="1062.6" y="304.1" font-size="30.0" font-style="italic">xw</tspan></text>
<text font-family="'Liberation Serif', 'DejaVu Serif', serif" fill="#000" font-size="50.0"><tspan x="817.0" y="379.2" font-style="italic">α</tspan><tspan x="843.6" y="389.2" font-size="30.0" font-style="italic">zv</tspan></text>
<text font-family="'Liberation Serif', 'DejaVu Serif', serif" fill="#000" font-size="50.0"><tspan x="965.9" y="465.7" font-style="italic">α</tspan><tspan x="991.5" y="475.7" font-size="30.0" font-style="italic">sn</tspan></text>
<text font-family="'Liberation Serif', 'DejaVu Serif', serif" fill="#FF0000" font-size="50.0"><tspan x="792.5" y="300.5" font-style="italic">B</tspan><tspan x="824.3" y="310.5" font-size="30.0" font-style="italic">uz</tspan></text>
<text font-family="'Liberation Serif', 'DejaVu Serif', serif" fill="#FF0000" font-size="50.0"><tspan x="963.2" y="226.7" font-style="italic">B</tspan><tspan x="995.8" y="236.7" font-size="30.0" font-style="italic">wy</tspan></text>
<text font-family="'Liberation Serif', 'DejaVu Serif', serif" fill="#FF0000" font-size="50.0"><tspan x="866.3" y="469.7" font-style="italic">B</tspan><tspan x="899.1" y="479.7" font-size="30.0" font-style="italic">vs</tspan></text>
<text font-family="'Liberation Serif', 'DejaVu Serif', serif" fill="#FF0000" font-size="50.0"><tspan x="1085.3" y="401.1" font-style="italic">E</tspan><tspan x="1116.5" y="411.1" font-size="30.0" font-style="italic">n</tspan></text>
<text font-family="'Liberation Serif', 'DejaVu Serif', serif" fill="#000" font-size="50.0"><tspan x="1206.5" y="371.0" font-style="italic">x</tspan></text>
<text font-family="'Liberation Serif', 'DejaVu Serif', serif" fill="#000" font-size="50.0"><tspan x="954.2" y="98.0" font-style="italic">y</tspan></text>
<text font-family="'Liberation Serif', 'DejaVu Serif', serif" fill="#000" font-size="50.0"><tspan x="688.8" y="319.6" font-style="italic">z</tspan></text>
<text font-family="'Liberation Serif', 'DejaVu Serif', serif" fill="#000" font-size="50.0"><tspan x="918.9" y="585.0" font-style="italic">s</tspan></text>
<text font-family="'Liberation Serif', 'DejaVu Serif', serif" fill="#85623A" font-size="50.0"><tspan x="771.4" y="153.9" font-style="italic">u</tspan></text>
<text font-family="'Liberation Serif', 'DejaVu Serif', serif" fill="#85623A" font-size="50.0"><tspan x="1128.2" y="180.3" font-style="italic">w</tspan></text>
<text font-family="'Liberation Serif', 'DejaVu Serif', serif" fill="#85623A" font-size="50.0"><tspan x="757.6" y="500.3" font-style="italic">v</tspan></text>
<text font-family="'Liberation Serif', 'DejaVu Serif', serif" fill="#85623A" font-size="50.0"><tspan x="1086.8" y="527.7" font-style="italic">n</tspan></text>
</g>
<text x="611.47" y="67.68" font-family="'Liberation Serif', 'DejaVu Serif', serif" font-size="69.60" fill="#000">(b)</text>
<g id="panel-c">
<rect x="1349.8" y="89.0" width="632.2" height="179.9" fill="#fff" stroke="#262626" stroke-width="3.4"/>
<path d="M1349.8 133.7h7.5M1982.0 133.7h-7.5M1349.8 223.7h7.5M1982.0 223.7h-7.5M1364.6 268.9v-7.5M1364.6 89.0v7.5M1967.0 268.9v-7.5M1967.0 89.0v7.5" stroke="#262626" stroke-width="3.2" fill="none"/>
<path d="M1364.6 89.6V104.0M1364.6 107.7V115.2M1364.6 117.5V122.6M1364.6 129.9V139.9M1364.6 166.5V171.0M1364.6 208.7v0.01M1376.9 89.6V104.0M1376.9 106.1V115.2M1376.9 118.7V123.1M1376.9 130.3V140.4M1376.9 166.5V171.0M1376.9 208.7v0.01M1389.2 89.6V104.0M1389.2 106.1V115.2M1389.2 117.6V122.1M1389.2 130.4V139.4M1389.2 166.5V171.0M1389.2 208.7v0.01M1401.5 89.6V104.0M1401.5 106.2V115.2M1401.5 117.9V122.8M1401.5 131.0V140.1M1401.5 166.5V171.0M1401.5 208.7v0.01M1413.8 89.6V104.0M1413.8 107.5V115.2M1413.8 118.4V123.3M1413.8 131.2V140.6M1413.8 166.5V171.0M1413.8 208.7v0.01M1426.1 89.6V104.0M1426.1 108.3V115.2M1426.1 118.1V124.0M1426.1 129.8V141.3M1426.1 166.5V171.0M1426.1 208.7v0.01M1438.4 89.6V104.0M1438.4 106.8V115.2M1438.4 119.6V122.3M1438.4 129.9V139.6M1438.4 166.5V171.0M1438.4 208.7v0.01M1450.7 89.6V104.0M1450.7 107.7V115.2M1450.7 118.3V122.4M1450.7 130.6V139.7M1450.7 166.5V171.0M1450.7 208.7v0.01M1463.0 89.6V104.0M1463.0 106.1V115.2M1463.0 117.9V123.1M1463.0 129.8V140.4M1463.0 166.5V171.0M1463.0 208.7v0.01M1475.2 89.6V104.0M1475.2 106.8V115.2M1475.2 118.9V123.4M1475.2 130.4V140.7M1475.2 166.5V171.0M1475.2 208.7v0.01M1487.5 89.6V104.0M1487.5 108.1V115.2M1487.5 119.3V122.9M1487.5 130.2V140.2M1487.5 166.5V171.0M1487.5 208.7v0.01M1499.8 89.6V104.0M1499.8 107.4V115.2M1499.8 119.8V122.5M1499.8 130.6V139.8M1499.8 166.5V171.0M1499.8 208.7v0.01M1512.1 89.6V104.0M1512.1 108.6V115.2M1512.1 117.6V123.5M1512.1 130.2V140.8M1512.1 166.5V171.0M1512.1 208.7v0.01M1524.4 89.6V104.0M1524.4 106.3V115.2M1524.4 118.7V122.8M1524.4 130.9V140.1M1524.4 166.5V171.0M1524.4 208.7v0.01M1536.7 89.6V104.0M1536.7 108.0V115.2M1536.7 118.9V122.1M1536.7 130.8V139.4M1536.7 166.5V171.0M1536.7 208.7v0.01M1549.0 89.6V104.0M1549.0 107.8V115.2M1549.0 119.0V123.8M1549.0 130.2V141.1M1549.0 166.5V171.0M1549.0 208.7v0.01M1561.3 89.6V104.0M1561.3 108.3V115.2M1561.3 119.9V123.2M1561.3 130.4V140.5M1561.3 166.5V171.0M1561.3 208.7v0.01M1573.6 89.6V104.0M1573.6 106.1V115.2M1573.6 119.3V122.9M1573.6 130.8V140.2M1573.6 166.5V171.0M1573.6 208.7v0.01M1585.9 89.6V104.0M1585.9 108.2V115.2M1585.9 118.1V123.3M1585.9 131.3V140.6M1585.9 166.5V171.0M1585.9 208.7v0.01M1598.2 89.6V104.0M1598.2 106.0V115.2M1598.2 118.6V122.8M1598.2 130.8V140.1M1598.2 166.5V171.0M1598.2 208.7v0.01M1610.5 89.6V104.0M1610.5 106.1V115.2M1610.5 119.5V122.3M1610.5 129.9V139.6M1610.5 166.5V171.0M1610.5 208.7v0.01M1622.8 89.6V104.0M1622.8 107.0V115.2M1622.8 119.7V122.3M1622.8 130.1V139.6M1622.8 166.5V171.0M1622.8 208.7v0.01M1635.1 89.6V104.0M1635.1 107.4V115.2M1635.1 119.8V122.2M1635.1 130.4V139.5M1635.1 166.5V171.0M1635.1 208.7v0.01M1647.4 89.6V104.0M1647.4 106.7V115.2M1647.4 118.5V123.6M1647.4 131.1V140.9M1647.4 166.5V171.0M1647.4 208.7v0.01M1659.7 89.6V104.0M1659.7 108.6V115.2M1659.7 117.7V122.7M1659.7 131.1V140.0M1659.7 166.5V171.0M1659.7 208.7v0.01M1671.9 89.6V104.0M1671.9 106.6V115.2M1671.9 118.7V122.4M1671.9 130.1V139.7M1671.9 166.5V171.0M1671.9 208.7v0.01M1684.2 89.6V104.0M1684.2 105.9V115.2M1684.2 118.5V123.2M1684.2 130.1V140.5M1684.2 166.5V171.0M1684.2 208.7v0.01M1696.5 89.6V104.0M1696.5 108.6V115.2M1696.5 119.2V122.7M1696.5 130.6V140.0M1696.5 166.5V171.0M1696.5 208.7v0.01M1708.8 89.6V104.0M1708.8 107.8V115.2M1708.8 117.5V123.0M1708.8 130.7V140.3M1708.8 166.5V171.0M1708.8 208.7v0.01M1721.1 89.6V104.0M1721.1 108.3V115.2M1721.1 119.5V123.8M1721.1 130.9V141.1M1721.1 166.5V171.0M1721.1 208.7v0.01M1733.4 89.6V104.0M1733.4 106.2V115.2M1733.4 119.1V122.8M1733.4 130.3V140.1M1733.4 166.5V171.0M1733.4 208.7v0.01M1745.7 89.6V104.0M1745.7 106.5V115.2M1745.7 117.8V122.1M1745.7 129.8V139.4M1745.7 166.5V171.0M1745.7 208.7v0.01M1758.0 89.6V104.0M1758.0 105.9V115.2M1758.0 117.7V122.7M1758.0 129.8V140.0M1758.0 166.5V171.0M1758.0 208.7v0.01M1770.3 89.6V104.0M1770.3 106.0V115.2M1770.3 119.7V122.2M1770.3 130.3V139.5M1770.3 166.5V171.0M1770.3 208.7v0.01M1782.6 89.6V104.0M1782.6 106.6V115.2M1782.6 118.3V123.2M1782.6 129.9V140.5M1782.6 166.5V171.0M1782.6 208.7v0.01M1794.9 89.6V104.0M1794.9 108.3V115.2M1794.9 120.1V122.7M1794.9 129.9V140.0M1794.9 166.5V171.0M1794.9 208.7v0.01M1807.2 89.6V104.0M1807.2 106.1V115.2M1807.2 117.6V122.9M1807.2 130.5V140.2M1807.2 166.5V171.0M1807.2 208.7v0.01M1819.5 89.6V104.0M1819.5 108.2V115.2M1819.5 117.8V122.7M1819.5 130.1V140.0M1819.5 166.5V171.0M1819.5 208.7v0.01M1831.8 89.6V104.0M1831.8 107.4V115.2M1831.8 117.7V122.0M1831.8 131.2V139.3M1831.8 166.5V171.0M1831.8 208.7v0.01M1844.1 89.6V104.0M1844.1 107.4V115.2M1844.1 120.0V123.1M1844.1 129.7V140.4M1844.1 166.5V171.0M1844.1 208.7v0.01M1856.4 89.6V104.0M1856.4 106.6V115.2M1856.4 118.3V123.7M1856.4 130.8V141.0M1856.4 166.5V171.0M1856.4 208.7v0.01M1868.6 89.6V104.0M1868.6 107.4V115.2M1868.6 119.5V122.3M1868.6 130.9V139.6M1868.6 166.5V171.0M1868.6 208.7v0.01M1880.9 89.6V104.0M1880.9 108.2V115.2M1880.9 120.1V122.7M1880.9 130.1V140.0M1880.9 166.5V171.0M1880.9 208.7v0.01M1893.2 89.6V104.0M1893.2 108.2V115.2M1893.2 119.4V123.7M1893.2 131.0V141.0M1893.2 166.5V171.0M1893.2 208.7v0.01M1905.5 89.6V104.0M1905.5 106.9V115.2M1905.5 117.4V122.5M1905.5 130.5V139.8M1905.5 166.5V171.0M1905.5 208.7v0.01M1917.8 89.6V104.0M1917.8 106.6V115.2M1917.8 119.2V122.1M1917.8 130.1V139.4M1917.8 166.5V171.0M1917.8 208.7v0.01M1930.1 89.6V104.0M1930.1 108.5V115.2M1930.1 120.1V123.9M1930.1 130.4V141.2M1930.1 166.5V171.0M1930.1 208.7v0.01M1942.4 89.6V104.0M1942.4 106.5V115.2M1942.4 117.9V123.9M1942.4 130.3V141.2M1942.4 166.5V171.0M1942.4 208.7v0.01M1954.7 89.6V104.0M1954.7 107.6V115.2M1954.7 119.8V122.4M1954.7 130.0V139.7M1954.7 166.5V171.0M1954.7 208.7v0.01M1967.0 89.6V104.0M1967.0 107.7V115.2M1967.0 119.5V123.7M1967.0 130.5V141.0M1967.0 166.5V171.0M1967.0 208.7v0.01" stroke="#000" stroke-width="5.6" stroke-linecap="round" fill="none"/>
<path d="M1364.6 252.9v0.01M1376.9 252.9v0.01M1389.2 252.9v0.01M1401.5 252.9v0.01M1413.8 252.9v0.01M1426.1 252.9v0.01M1438.4 252.9v0.01M1450.7 252.9v0.01M1463.0 252.9v0.01M1475.2 252.9v0.01M1487.5 252.9v0.01M1499.8 252.9v0.01M1512.1 252.9v0.01M1524.4 252.9v0.01M1536.7 252.9v0.01M1549.0 252.9v0.01M1561.3 252.9v0.01M1573.6 252.9v0.01M1585.9 252.9v0.01M1598.2 252.9v0.01M1610.5 252.9v0.01M1622.8 252.9v0.01M1635.1 252.9v0.01M1647.4 252.9v0.01M1659.7 252.9v0.01M1671.9 252.9v0.01M1684.2 252.9v0.01M1696.5 252.9v0.01M1708.8 252.9v0.01M1721.1 252.9v0.01M1733.4 252.9v0.01M1745.7 252.9v0.01M1758.0 252.9v0.01M1770.3 252.9v0.01M1782.6 252.9v0.01M1794.9 252.9v0.01M1807.2 252.9v0.01M1819.5 252.9v0.01M1831.8 252.9v0.01M1844.1 252.9v0.01M1856.4 252.9v0.01M1868.6 252.9v0.01M1880.9 252.9v0.01M1893.2 252.9v0.01M1905.5 252.9v0.01M1917.8 252.9v0.01M1930.1 252.9v0.01M1942.4 252.9v0.01M1954.7 252.9v0.01M1967.0 252.9v0.01" stroke="#FF0000" stroke-width="5.6" stroke-linecap="round" fill="none"/>
<text x="1301.42" y="146.00" font-family="'Liberation Sans', 'DejaVu Sans', sans-serif" font-size="44.50" fill="#000">-7</text>
<text x="1301.20" y="242.46" font-family="'Liberation Sans', 'DejaVu Sans', sans-serif" font-size="44.50" fill="#000">-8</text>
<text transform="translate(1314.7 193.4) rotate(-90)" font-family="'Liberation Serif', 'DejaVu Serif', serif" font-size="62.3" font-style="italic" fill="#000" stroke="#000" stroke-width="0.5" stroke-linejoin="round">ε</text>
</g><g id="panel-d">
<rect x="1349.0" y="339.2" width="631.5" height="179.7" fill="#fff" stroke="#262626" stroke-width="3.4"/>
<path d="M1349.0 383.7h7.5M1980.5 383.7h-7.5M1349.0 473.7h7.5M1980.5 473.7h-7.5M1363.7 518.9v-7.5M1363.7 339.2v7.5M1965.6 518.9v-7.5M1965.6 339.2v7.5" stroke="#262626" stroke-width="3.2" fill="none"/>
<path d="M1363.7 339.8V354.2M1363.7 357.9V365.4M1363.7 367.7V372.8M1363.7 380.1V390.1M1363.7 416.7V421.2M1363.7 458.9v0.01M1376.0 339.8V354.2M1376.0 356.3V365.4M1376.0 368.9V373.3M1376.0 380.5V390.6M1376.0 416.7V421.2M1376.0 458.9v0.01M1388.3 339.8V354.2M1388.3 356.3V365.4M1388.3 367.8V372.3M1388.3 380.6V389.6M1388.3 416.7V421.2M1388.3 458.9v0.01M1400.6 339.8V354.2M1400.6 356.4V365.4M1400.6 368.1V373.0M1400.6 381.2V390.3M1400.6 416.7V421.2M1400.6 458.9v0.01M1412.8 339.8V354.2M1412.8 357.7V365.4M1412.8 368.6V373.5M1412.8 381.4V390.8M1412.8 416.7V421.2M1412.8 458.9v0.01M1425.1 339.8V354.2M1425.1 358.5V365.4M1425.1 368.3V374.2M1425.1 380.0V391.5M1425.1 416.7V421.2M1425.1 458.9v0.01M1437.4 339.8V354.2M1437.4 357.0V365.4M1437.4 369.8V372.5M1437.4 380.1V389.8M1437.4 416.7V421.2M1437.4 458.9v0.01M1449.7 339.8V354.2M1449.7 357.9V365.4M1449.7 368.5V372.6M1449.7 380.8V389.9M1449.7 416.7V421.2M1449.7 458.9v0.01M1462.0 339.8V354.2M1462.0 356.3V365.4M1462.0 368.1V373.3M1462.0 380.0V390.6M1462.0 416.7V421.2M1462.0 458.9v0.01M1474.3 339.8V354.2M1474.3 357.0V365.4M1474.3 369.1V373.6M1474.3 380.6V390.9M1474.3 416.7V421.2M1474.3 458.9v0.01M1486.5 339.8V354.2M1486.5 358.3V365.4M1486.5 369.5V373.1M1486.5 380.4V390.4M1486.5 416.7V421.2M1486.5 458.9v0.01M1498.8 339.8V354.2M1498.8 357.6V365.4M1498.8 370.0V372.7M1498.8 380.8V390.0M1498.8 416.7V421.2M1498.8 458.9v0.01M1511.1 339.8V354.2M1511.1 358.8V365.4M1511.1 367.8V373.7M1511.1 380.4V391.0M1511.1 416.7V421.2M1511.1 458.9v0.01M1523.4 339.8V354.2M1523.4 356.5V365.4M1523.4 368.9V373.0M1523.4 381.1V390.3M1523.4 416.7V421.2M1523.4 458.9v0.01M1535.7 339.8V354.2M1535.7 358.2V365.4M1535.7 369.1V372.3M1535.7 381.0V389.6M1535.7 416.7V421.2M1535.7 458.9v0.01M1548.0 339.8V354.2M1548.0 358.0V365.4M1548.0 369.2V374.0M1548.0 380.4V391.3M1548.0 416.7V421.2M1548.0 458.9v0.01M1560.2 339.8V354.2M1560.2 358.5V365.4M1560.2 370.1V373.4M1560.2 380.6V390.7M1560.2 416.7V421.2M1560.2 458.9v0.01M1572.5 339.8V354.2M1572.5 356.3V365.4M1572.5 369.5V373.1M1572.5 381.0V390.4M1572.5 416.7V421.2M1572.5 458.9v0.01M1584.8 339.8V354.2M1584.8 358.4V365.4M1584.8 368.3V373.5M1584.8 381.5V390.8M1584.8 416.7V421.2M1584.8 458.9v0.01M1597.1 339.8V354.2M1597.1 356.2V365.4M1597.1 368.8V373.0M1597.1 381.0V390.3M1597.1 416.7V421.2M1597.1 458.9v0.01M1609.4 339.8V354.2M1609.4 356.3V365.4M1609.4 369.7V372.5M1609.4 380.1V389.8M1609.4 416.7V421.2M1609.4 458.9v0.01M1621.7 339.8V354.2M1621.7 357.2V365.4M1621.7 369.9V372.5M1621.7 380.3V389.8M1621.7 416.7V421.2M1621.7 458.9v0.01M1633.9 339.8V354.2M1633.9 357.6V365.4M1633.9 370.0V372.4M1633.9 380.6V389.7M1633.9 416.7V421.2M1633.9 458.9v0.01M1646.2 339.8V354.2M1646.2 356.9V365.4M1646.2 368.7V373.8M1646.2 381.3V391.1M1646.2 416.7V421.2M1646.2 458.9v0.01M1658.5 339.8V354.2M1658.5 358.8V365.4M1658.5 367.9V372.9M1658.5 381.3V390.2M1658.5 416.7V421.2M1658.5 458.9v0.01M1670.8 339.8V354.2M1670.8 356.8V365.4M1670.8 368.9V372.6M1670.8 380.3V389.9M1670.8 416.7V421.2M1670.8 458.9v0.01M1683.1 339.8V354.2M1683.1 356.1V365.4M1683.1 368.7V373.4M1683.1 380.3V390.7M1683.1 416.7V421.2M1683.1 458.9v0.01M1695.4 339.8V354.2M1695.4 358.8V365.4M1695.4 369.4V372.9M1695.4 380.8V390.2M1695.4 416.7V421.2M1695.4 458.9v0.01M1707.6 339.8V354.2M1707.6 358.0V365.4M1707.6 367.7V373.2M1707.6 380.9V390.5M1707.6 416.7V421.2M1707.6 458.9v0.01M1719.9 339.8V354.2M1719.9 358.5V365.4M1719.9 369.7V374.0M1719.9 381.1V391.3M1719.9 416.7V421.2M1719.9 458.9v0.01M1732.2 339.8V354.2M1732.2 356.4V365.4M1732.2 369.3V373.0M1732.2 380.5V390.3M1732.2 416.7V421.2M1732.2 458.9v0.01M1744.5 339.8V354.2M1744.5 356.7V365.4M1744.5 368.0V372.3M1744.5 380.0V389.6M1744.5 416.7V421.2M1744.5 458.9v0.01M1756.8 339.8V354.2M1756.8 356.1V365.4M1756.8 367.9V372.9M1756.8 380.0V390.2M1756.8 416.7V421.2M1756.8 458.9v0.01M1769.1 339.8V354.2M1769.1 356.2V365.4M1769.1 369.9V372.4M1769.1 380.5V389.7M1769.1 416.7V421.2M1769.1 458.9v0.01M1781.3 339.8V354.2M1781.3 356.8V365.4M1781.3 368.5V373.4M1781.3 380.1V390.7M1781.3 416.7V421.2M1781.3 458.9v0.01M1793.6 339.8V354.2M1793.6 358.5V365.4M1793.6 370.3V372.9M1793.6 380.1V390.2M1793.6 416.7V421.2M1793.6 458.9v0.01M1805.9 339.8V354.2M1805.9 356.3V365.4M1805.9 367.8V373.1M1805.9 380.7V390.4M1805.9 416.7V421.2M1805.9 458.9v0.01M1818.2 339.8V354.2M1818.2 358.4V365.4M1818.2 368.0V372.9M1818.2 380.3V390.2M1818.2 416.7V421.2M1818.2 458.9v0.01M1830.5 339.8V354.2M1830.5 357.6V365.4M1830.5 367.9V372.2M1830.5 381.4V389.5M1830.5 416.7V421.2M1830.5 458.9v0.01M1842.8 339.8V354.2M1842.8 357.6V365.4M1842.8 370.2V373.3M1842.8 379.9V390.6M1842.8 416.7V421.2M1842.8 458.9v0.01M1855.0 339.8V354.2M1855.0 356.8V365.4M1855.0 368.5V373.9M1855.0 381.0V391.2M1855.0 416.7V421.2M1855.0 458.9v0.01M1867.3 339.8V354.2M1867.3 357.6V365.4M1867.3 369.7V372.5M1867.3 381.1V389.8M1867.3 416.7V421.2M1867.3 458.9v0.01M1879.6 339.8V354.2M1879.6 358.4V365.4M1879.6 370.3V372.9M1879.6 380.3V390.2M1879.6 416.7V421.2M1879.6 458.9v0.01M1891.9 339.8V354.2M1891.9 358.4V365.4M1891.9 369.6V373.9M1891.9 381.2V391.2M1891.9 416.7V421.2M1891.9 458.9v0.01M1904.2 339.8V354.2M1904.2 357.1V365.4M1904.2 367.6V372.7M1904.2 380.7V390.0M1904.2 416.7V421.2M1904.2 458.9v0.01M1916.5 339.8V354.2M1916.5 356.8V365.4M1916.5 369.4V372.3M1916.5 380.3V389.6M1916.5 416.7V421.2M1916.5 458.9v0.01M1928.7 339.8V354.2M1928.7 358.7V365.4M1928.7 370.3V374.1M1928.7 380.6V391.4M1928.7 416.7V421.2M1928.7 458.9v0.01M1941.0 339.8V354.2M1941.0 356.7V365.4M1941.0 368.1V374.1M1941.0 380.5V391.4M1941.0 416.7V421.2M1941.0 458.9v0.01M1953.3 339.8V354.2M1953.3 357.8V365.4M1953.3 370.0V372.6M1953.3 380.2V389.9M1953.3 416.7V421.2M1953.3 458.9v0.01M1965.6 339.8V354.2M1965.6 357.9V365.4M1965.6 369.7V373.9M1965.6 380.7V391.2M1965.6 416.7V421.2M1965.6 458.9v0.01" stroke="#000" stroke-width="5.6" stroke-linecap="round" fill="none"/>
<path d="M1363.7 503.1v0.01M1376.0 503.1v0.01M1388.3 503.1v0.01M1400.6 503.1v0.01M1412.8 503.1v0.01M1425.1 503.1v0.01M1437.4 503.1v0.01M1449.7 503.1v0.01M1462.0 503.1v0.01M1474.3 503.1v0.01M1486.5 503.1v0.01M1498.8 503.1v0.01M1511.1 503.1v0.01M1523.4 503.1v0.01M1535.7 503.1v0.01M1548.0 503.1v0.01M1560.2 503.1v0.01M1572.5 503.1v0.01M1584.8 503.1v0.01M1597.1 503.1v0.01M1609.4 503.1v0.01M1621.7 503.1v0.01M1633.9 503.1v0.01M1646.2 503.1v0.01M1658.5 503.1v0.01M1670.8 503.1v0.01M1683.1 503.1v0.01M1695.4 503.1v0.01M1707.6 503.1v0.01M1719.9 503.1v0.01M1732.2 503.1v0.01M1744.5 503.1v0.01M1756.8 503.1v0.01M1769.1 503.1v0.01M1781.3 503.1v0.01M1793.6 503.1v0.01M1805.9 503.1v0.01M1818.2 503.1v0.01M1830.5 503.1v0.01M1842.8 503.1v0.01M1855.0 503.1v0.01M1867.3 503.1v0.01M1879.6 503.1v0.01M1891.9 503.1v0.01M1904.2 503.1v0.01M1916.5 503.1v0.01M1928.7 503.1v0.01M1941.0 503.1v0.01M1953.3 503.1v0.01M1965.6 503.1v0.01" stroke="#FF0000" stroke-width="5.6" stroke-linecap="round" fill="none"/>
<text x="1300.62" y="396.00" font-family="'Liberation Sans', 'DejaVu Sans', sans-serif" font-size="44.50" fill="#000">-7</text>
<text x="1300.40" y="492.45" font-family="'Liberation Sans', 'DejaVu Sans', sans-serif" font-size="44.50" fill="#000">-8</text>
<text transform="translate(1313.9 443.6) rotate(-90)" font-family="'Liberation Serif', 'DejaVu Serif', serif" font-size="62.3" font-style="italic" fill="#000" stroke="#000" stroke-width="0.5" stroke-linejoin="round">ε</text>
<path d="M1345.7 587.9H1398.5M1307.5 587.9H1335.1" stroke="#000" stroke-width="3.2" fill="none"/>
<text font-family="'DejaVu Serif Condensed', 'DejaVu Serif', 'Liberation Serif', serif" font-size="42.5" fill="#000"><tspan x="1346.4" y="566.4">4</tspan><tspan x="1372.0" y="567.0" font-style="italic" font-family="'Liberation Serif', 'DejaVu Serif', serif" font-size="48.5" stroke="#000" stroke-width="0.5" stroke-linejoin="round">π</tspan><tspan x="1359.9" y="631.5">3</tspan></text>
<path d="M1932.0 592.2H1985.1" stroke="#000" stroke-width="3.2" fill="none"/>
<text font-family="'DejaVu Serif Condensed', 'DejaVu Serif', 'Liberation Serif', serif" font-size="42.5" fill="#000"><tspan x="1931.5" y="570.7">2</tspan><tspan x="1958.6" y="571.3" font-style="italic" font-family="'Liberation Serif', 'DejaVu Serif', serif" font-size="48.5" stroke="#000" stroke-width="0.5" stroke-linejoin="round">π</tspan><tspan x="1946.3" y="635.8">3</tspan></text>
<text font-family="'DejaVu Serif', 'Liberation Serif', serif" font-style="italic" font-size="62.3" fill="#000" stroke="#fff" stroke-width="0.7"><tspan x="1626.2" y="611.9">φ</tspan><tspan x="1665.5" y="625.0" font-size="48.0">n</tspan></text>
</g>
<g id="panel-e">
<rect x="120.3" y="724.1" width="369.2" height="361.5" fill="#fff" stroke="#262626" stroke-width="2.9"/>
<path d="M120.3 769.0h5.3M120.3 1040.5h5.3M489.5 769.0h-5.3M489.5 1040.5h-5.3" stroke="#262626" stroke-width="2.6" fill="none"/>
<path d="M120.3 904.8L123.4 908.9L126.5 913.1L129.5 917.2L132.6 921.4L135.7 925.5L138.8 929.6L141.8 933.6L144.9 937.6L148.0 941.6L151.1 945.5L154.1 949.4L157.2 953.1L160.3 956.8L163.4 960.5L166.4 964.0L169.5 967.4L172.6 970.7L175.7 973.9L178.8 976.9L181.8 979.8L184.9 982.6L188.0 985.2L191.1 987.6L194.1 989.8L197.2 991.8L200.3 993.6L203.4 995.2L206.4 996.5L209.5 997.6L212.6 998.5L215.7 999.1L218.8 999.5L221.8 999.5L224.9 999.3L228.0 998.8L231.1 998.1L234.1 997.0L237.2 995.6L240.3 994.0L243.4 992.1L246.4 989.8L249.5 987.3L252.6 984.5L255.7 981.4L258.8 978.1L261.8 974.5L264.9 970.7L268.0 966.6L271.1 962.3L274.1 957.7L277.2 953.0L280.3 948.1L283.4 943.1L286.4 937.9L289.5 932.5L292.6 927.1L295.7 921.6L298.7 916.0L301.8 910.4L304.9 904.8L308.0 899.1L311.1 893.5L314.1 887.9L317.2 882.4L320.3 877.0L323.4 871.6L326.4 866.4L329.5 861.4L332.6 856.5L335.7 851.8L338.7 847.2L341.8 842.9L344.9 838.8L348.0 835.0L351.1 831.4L354.1 828.1L357.2 825.0L360.3 822.2L363.4 819.7L366.4 817.4L369.5 815.5L372.6 813.9L375.7 812.5L378.7 811.4L381.8 810.7L384.9 810.2L388.0 810.0L391.0 810.0L394.1 810.4L397.2 811.0L400.3 811.9L403.4 813.0L406.4 814.3L409.5 815.9L412.6 817.7L415.7 819.7L418.7 821.9L421.8 824.3L424.9 826.9L428.0 829.7L431.0 832.6L434.1 835.6L437.2 838.8L440.3 842.1L443.4 845.5L446.4 849.0L449.5 852.7L452.6 856.4L455.7 860.1L458.7 864.0L461.8 867.9L464.9 871.9L468.0 875.9L471.0 879.9L474.1 884.0L477.2 888.1L480.3 892.3L483.3 896.4L486.4 900.6L489.5 904.7" fill="none" stroke="#000" stroke-width="1.9" stroke-linejoin="round"/>
<g fill="#fff" stroke="#000" stroke-width="2"><circle cx="120.3" cy="904.8" r="6.25"/><circle cx="135.4" cy="925.1" r="6.25"/><circle cx="150.4" cy="944.7" r="6.25"/><circle cx="165.5" cy="962.9" r="6.25"/><circle cx="180.6" cy="978.7" r="6.25"/><circle cx="195.6" cy="990.8" r="6.25"/><circle cx="210.7" cy="998.0" r="6.25"/><circle cx="225.8" cy="999.2" r="6.25"/><circle cx="240.9" cy="993.7" r="6.25"/><circle cx="255.9" cy="981.2" r="6.25"/><circle cx="271.0" cy="962.3" r="6.25"/><circle cx="286.1" cy="938.5" r="6.25"/><circle cx="301.1" cy="911.6" r="6.25"/><circle cx="316.2" cy="884.2" r="6.25"/><circle cx="331.3" cy="858.5" r="6.25"/><circle cx="346.4" cy="837.0" r="6.25"/><circle cx="361.4" cy="821.2" r="6.25"/><circle cx="376.5" cy="812.2" r="6.25"/><circle cx="391.6" cy="810.1" r="6.25"/><circle cx="406.6" cy="814.4" r="6.25"/><circle cx="421.7" cy="824.3" r="6.25"/><circle cx="436.8" cy="838.3" r="6.25"/><circle cx="451.8" cy="855.5" r="6.25"/><circle cx="466.9" cy="874.5" r="6.25"/><circle cx="482.0" cy="894.6" r="6.25"/></g>
<g fill="#808080" stroke="#000" stroke-width="2.1"><rect x="115.1" y="899.6" width="10.3" height="10.3"/><rect x="176.7" y="974.7" width="10.3" height="10.3"/><rect x="238.2" y="986.9" width="10.3" height="10.3"/><rect x="299.8" y="899.6" width="10.3" height="10.3"/><rect x="361.3" y="812.3" width="10.3" height="10.3"/><rect x="422.8" y="824.5" width="10.3" height="10.3"/><rect x="484.4" y="899.6" width="10.3" height="10.3"/></g>
<rect x="118.9" y="845.0" width="38.0" height="115.8" fill="#FF0000" fill-opacity="0.2"/>
<text x="83.98" y="781.97" font-family="'DejaVu Serif Condensed', 'DejaVu Serif', 'Liberation Serif', serif" font-size="43.00" fill="#000">5</text>
<text x="84.84" y="1054.12" font-family="'DejaVu Serif Condensed', 'DejaVu Serif', 'Liberation Serif', serif" font-size="43.00" fill="#000">2</text>
<text transform="translate(81.2 954.3) rotate(-90) scale(0.933 1)" font-family="'Liberation Serif', 'DejaVu Serif', serif" font-size="60.3" font-style="italic" fill="#000" stroke="#000" stroke-width="0.5" stroke-linejoin="round">X</text>
<text transform="translate(93.8 918.3) rotate(-90) scale(0.939 1)" font-family="'Liberation Serif', 'DejaVu Serif', serif" font-size="42.5" font-style="italic" fill="#000" stroke="#000" stroke-width="0.5" stroke-linejoin="round">EC</text>
</g>
<path d="M110.0 1152.5H163.1M71.8 1152.5H99.4" stroke="#000" stroke-width="3.2" fill="none"/>
<text font-family="'DejaVu Serif Condensed', 'DejaVu Serif', 'Liberation Serif', serif" font-size="42.5" fill="#000"><tspan x="110.7" y="1131.0">4</tspan><tspan x="136.6" y="1131.6" font-style="italic" font-family="'Liberation Serif', 'DejaVu Serif', serif" font-size="48.5" stroke="#000" stroke-width="0.5" stroke-linejoin="round">π</tspan><tspan x="124.3" y="1196.1">3</tspan></text>
<path d="M461.0 1153.2H514.1" stroke="#000" stroke-width="3.2" fill="none"/>
<text font-family="'DejaVu Serif Condensed', 'DejaVu Serif', 'Liberation Serif', serif" font-size="42.5" fill="#000"><tspan x="460.4" y="1131.7">2</tspan><tspan x="487.6" y="1132.3" font-style="italic" font-family="'Liberation Serif', 'DejaVu Serif', serif" font-size="48.5" stroke="#000" stroke-width="0.5" stroke-linejoin="round">π</tspan><tspan x="475.3" y="1196.8">3</tspan></text>
<g id="panel-f">
<rect x="619.5" y="724.1" width="368.9" height="361.5" fill="#fff" stroke="#262626" stroke-width="2.9"/>
<path d="M619.5 769.0h5.3M619.5 1040.5h5.3M988.4 769.0h-5.3M988.4 1040.5h-5.3" stroke="#262626" stroke-width="2.6" fill="none"/>
<path d="M619.5 904.8L622.6 900.2L625.6 895.7L628.7 891.1L631.8 886.6L634.9 882.1L637.9 877.7L641.0 873.2L644.1 868.8L647.2 864.5L650.2 860.2L653.3 856.0L656.4 851.9L659.5 847.8L662.5 843.8L665.6 839.9L668.7 836.1L671.8 832.4L674.8 828.8L677.9 825.3L681.0 821.9L684.1 818.7L687.1 815.6L690.2 812.7L693.3 809.9L696.4 807.3L699.4 804.9L702.5 802.7L705.6 800.7L708.7 799.0L711.7 797.5L714.8 796.3L717.9 795.3L720.9 794.7L724.0 794.3L727.1 794.3L730.2 794.6L733.2 795.2L736.3 796.2L739.4 797.6L742.5 799.3L745.5 801.5L748.6 804.0L751.7 806.9L754.8 810.2L757.8 813.8L760.9 817.9L764.0 822.3L767.1 827.1L770.1 832.2L773.2 837.7L776.3 843.4L779.4 849.5L782.4 855.8L785.5 862.3L788.6 869.1L791.7 876.0L794.7 883.1L797.8 890.2L800.9 897.5L804.0 904.7L807.0 912.0L810.1 919.3L813.2 926.4L816.2 933.5L819.3 940.4L822.4 947.2L825.5 953.7L828.5 960.0L831.6 966.1L834.7 971.8L837.8 977.3L840.8 982.4L843.9 987.2L847.0 991.6L850.1 995.7L853.1 999.3L856.2 1002.6L859.3 1005.5L862.4 1008.0L865.4 1010.2L868.5 1011.9L871.6 1013.3L874.7 1014.3L877.7 1014.9L880.8 1015.2L883.9 1015.2L887.0 1014.8L890.0 1014.2L893.1 1013.2L896.2 1012.0L899.2 1010.5L902.3 1008.8L905.4 1006.8L908.5 1004.6L911.5 1002.2L914.6 999.6L917.7 996.8L920.8 993.9L923.8 990.8L926.9 987.6L930.0 984.2L933.1 980.7L936.1 977.1L939.2 973.4L942.3 969.6L945.4 965.7L948.4 961.7L951.5 957.6L954.6 953.5L957.7 949.3L960.7 945.0L963.8 940.7L966.9 936.3L970.0 931.8L973.0 927.4L976.1 922.9L979.2 918.4L982.3 913.8L985.3 909.3L988.4 904.8" fill="none" stroke="#000" stroke-width="1.9" stroke-linejoin="round"/>
<g fill="#fff" stroke="#000" stroke-width="2"><circle cx="619.5" cy="904.8" r="6.25"/><circle cx="634.6" cy="882.5" r="6.25"/><circle cx="649.6" cy="861.1" r="6.25"/><circle cx="664.7" cy="841.0" r="6.25"/><circle cx="679.8" cy="823.2" r="6.25"/><circle cx="694.9" cy="808.5" r="6.25"/><circle cx="709.9" cy="798.4" r="6.25"/><circle cx="725.0" cy="794.3" r="6.25"/><circle cx="740.1" cy="797.9" r="6.25"/><circle cx="755.1" cy="810.6" r="6.25"/><circle cx="770.2" cy="832.3" r="6.25"/><circle cx="785.3" cy="861.8" r="6.25"/><circle cx="800.3" cy="896.2" r="6.25"/><circle cx="815.4" cy="931.6" r="6.25"/><circle cx="830.5" cy="963.9" r="6.25"/><circle cx="845.5" cy="989.6" r="6.25"/><circle cx="860.6" cy="1006.7" r="6.25"/><circle cx="875.7" cy="1014.5" r="6.25"/><circle cx="890.8" cy="1014.0" r="6.25"/><circle cx="905.8" cy="1006.5" r="6.25"/><circle cx="920.9" cy="993.8" r="6.25"/><circle cx="936.0" cy="977.3" r="6.25"/><circle cx="951.0" cy="958.2" r="6.25"/><circle cx="966.1" cy="937.4" r="6.25"/><circle cx="981.2" cy="915.4" r="6.25"/></g>
<g fill="#808080" stroke="#000" stroke-width="2.1"><rect x="614.4" y="899.6" width="10.3" height="10.3"/><rect x="675.8" y="816.8" width="10.3" height="10.3"/><rect x="737.3" y="794.2" width="10.3" height="10.3"/><rect x="798.8" y="899.6" width="10.3" height="10.3"/><rect x="860.3" y="1005.0" width="10.3" height="10.3"/><rect x="921.8" y="982.4" width="10.3" height="10.3"/><rect x="983.2" y="899.6" width="10.3" height="10.3"/></g>
<rect x="618.0" y="844.8" width="38.7" height="116.0" fill="#70AD47" fill-opacity="0.2"/>
<text x="583.18" y="781.97" font-family="'DejaVu Serif Condensed', 'DejaVu Serif', 'Liberation Serif', serif" font-size="43.00" fill="#000">5</text>
<text x="584.04" y="1054.12" font-family="'DejaVu Serif Condensed', 'DejaVu Serif', 'Liberation Serif', serif" font-size="43.00" fill="#000">2</text>
<text transform="translate(579.8 951.9) rotate(-90) scale(0.897 1)" font-family="'Liberation Serif', 'DejaVu Serif', serif" font-size="60.0" font-style="italic" fill="#000" stroke="#000" stroke-width="0.5" stroke-linejoin="round">Y</text>
<text transform="translate(592.7 923.4) rotate(-90) scale(0.930 1)" font-family="'Liberation Serif', 'DejaVu Serif', serif" font-size="42.8" font-style="italic" fill="#000" stroke="#000" stroke-width="0.5" stroke-linejoin="round">EC</text>
</g>
<path d="M610.0 1152.5H663.1M571.8 1152.5H599.4" stroke="#000" stroke-width="3.2" fill="none"/>
<text font-family="'DejaVu Serif Condensed', 'DejaVu Serif', 'Liberation Serif', serif" font-size="42.5" fill="#000"><tspan x="610.7" y="1131.0">4</tspan><tspan x="636.6" y="1131.6" font-style="italic" font-family="'Liberation Serif', 'DejaVu Serif', serif" font-size="48.5" stroke="#000" stroke-width="0.5" stroke-linejoin="round">π</tspan><tspan x="624.3" y="1196.1">3</tspan></text>
<path d="M956.9 1153.2H1010.0" stroke="#000" stroke-width="3.2" fill="none"/>
<text font-family="'DejaVu Serif Condensed', 'DejaVu Serif', 'Liberation Serif', serif" font-size="42.5" fill="#000"><tspan x="956.4" y="1131.7">2</tspan><tspan x="983.5" y="1132.3" font-style="italic" font-family="'Liberation Serif', 'DejaVu Serif', serif" font-size="48.5" stroke="#000" stroke-width="0.5" stroke-linejoin="round">π</tspan><tspan x="971.2" y="1196.8">3</tspan></text>
<g id="panel-g">
<rect x="1118.6" y="724.1" width="368.9" height="361.5" fill="#fff" stroke="#262626" stroke-width="2.9"/>
<path d="M1118.6 769.0h5.3M1118.6 1040.5h5.3M1487.5 769.0h-5.3M1487.5 1040.5h-5.3" stroke="#262626" stroke-width="2.6" fill="none"/>
<path d="M1118.6 904.8L1121.7 909.3L1124.7 913.8L1127.8 918.3L1130.9 922.9L1134.0 927.4L1137.0 931.9L1140.1 936.4L1143.2 940.9L1146.3 945.3L1149.3 949.8L1152.4 954.2L1155.5 958.6L1158.6 962.9L1161.6 967.2L1164.7 971.5L1167.8 975.7L1170.9 979.8L1173.9 983.9L1177.0 987.9L1180.1 991.8L1183.2 995.6L1186.2 999.2L1189.3 1002.7L1192.4 1006.1L1195.5 1009.3L1198.5 1012.3L1201.6 1015.1L1204.7 1017.7L1207.8 1020.0L1210.8 1022.0L1213.9 1023.8L1217.0 1025.2L1220.0 1026.4L1223.1 1027.1L1226.2 1027.5L1229.3 1027.5L1232.3 1027.1L1235.4 1026.3L1238.5 1025.1L1241.6 1023.4L1244.6 1021.2L1247.7 1018.6L1250.8 1015.5L1253.9 1012.0L1256.9 1008.0L1260.0 1003.5L1263.1 998.6L1266.2 993.3L1269.2 987.5L1272.3 981.4L1275.4 974.8L1278.5 968.0L1281.5 960.8L1284.6 953.3L1287.7 945.6L1290.8 937.7L1293.8 929.6L1296.9 921.4L1300.0 913.1L1303.0 904.8L1306.1 896.4L1309.2 888.1L1312.3 879.9L1315.3 871.8L1318.4 863.9L1321.5 856.2L1324.6 848.7L1327.6 841.5L1330.7 834.7L1333.8 828.1L1336.9 822.0L1339.9 816.2L1343.0 810.9L1346.1 806.0L1349.2 801.5L1352.2 797.5L1355.3 794.0L1358.4 790.9L1361.5 788.3L1364.5 786.1L1367.6 784.4L1370.7 783.2L1373.8 782.4L1376.8 782.0L1379.9 782.0L1383.0 782.4L1386.1 783.1L1389.1 784.3L1392.2 785.7L1395.3 787.5L1398.3 789.5L1401.4 791.8L1404.5 794.4L1407.6 797.2L1410.6 800.2L1413.7 803.4L1416.8 806.8L1419.9 810.3L1422.9 813.9L1426.0 817.7L1429.1 821.6L1432.2 825.6L1435.2 829.7L1438.3 833.8L1441.4 838.0L1444.5 842.3L1447.5 846.6L1450.6 850.9L1453.7 855.3L1456.8 859.7L1459.8 864.2L1462.9 868.6L1466.0 873.1L1469.1 877.6L1472.1 882.1L1475.2 886.6L1478.3 891.2L1481.4 895.7L1484.4 900.2L1487.5 904.7" fill="none" stroke="#000" stroke-width="1.9" stroke-linejoin="round"/>
<g fill="#fff" stroke="#000" stroke-width="2"><circle cx="1118.6" cy="904.8" r="6.25"/><circle cx="1133.7" cy="926.9" r="6.25"/><circle cx="1148.7" cy="948.9" r="6.25"/><circle cx="1163.8" cy="970.3" r="6.25"/><circle cx="1178.9" cy="990.3" r="6.25"/><circle cx="1193.9" cy="1007.8" r="6.25"/><circle cx="1209.0" cy="1020.9" r="6.25"/><circle cx="1224.1" cy="1027.3" r="6.25"/><circle cx="1239.2" cy="1024.7" r="6.25"/><circle cx="1254.2" cy="1011.5" r="6.25"/><circle cx="1269.3" cy="987.4" r="6.25"/><circle cx="1284.4" cy="953.9" r="6.25"/><circle cx="1299.4" cy="914.5" r="6.25"/><circle cx="1314.5" cy="874.0" r="6.25"/><circle cx="1329.6" cy="837.2" r="6.25"/><circle cx="1344.6" cy="808.2" r="6.25"/><circle cx="1359.7" cy="789.7" r="6.25"/><circle cx="1374.8" cy="782.2" r="6.25"/><circle cx="1389.9" cy="784.6" r="6.25"/><circle cx="1404.9" cy="794.8" r="6.25"/><circle cx="1420.0" cy="810.4" r="6.25"/><circle cx="1435.1" cy="829.4" r="6.25"/><circle cx="1450.1" cy="850.3" r="6.25"/><circle cx="1465.2" cy="872.0" r="6.25"/><circle cx="1480.3" cy="894.1" r="6.25"/></g>
<g fill="#808080" stroke="#000" stroke-width="2.1"><rect x="1113.4" y="899.6" width="10.3" height="10.3"/><rect x="1174.9" y="986.6" width="10.3" height="10.3"/><rect x="1236.4" y="1018.2" width="10.3" height="10.3"/><rect x="1297.9" y="899.6" width="10.3" height="10.3"/><rect x="1359.4" y="781.0" width="10.3" height="10.3"/><rect x="1420.9" y="812.6" width="10.3" height="10.3"/><rect x="1482.3" y="899.6" width="10.3" height="10.3"/></g>
<rect x="1120.1" y="844.8" width="38.0" height="116.0" fill="#2E86C1" fill-opacity="0.25"/>
<text x="1082.29" y="781.97" font-family="'DejaVu Serif Condensed', 'DejaVu Serif', 'Liberation Serif', serif" font-size="43.00" fill="#000">5</text>
<text x="1083.14" y="1054.12" font-family="'DejaVu Serif Condensed', 'DejaVu Serif', 'Liberation Serif', serif" font-size="43.00" fill="#000">2</text>
<text transform="translate(1080.2 955.8) rotate(-90) scale(1.016 1)" font-family="'Liberation Serif', 'DejaVu Serif', serif" font-size="60.2" font-style="italic" fill="#000" stroke="#000" stroke-width="0.5" stroke-linejoin="round">Z</text>
<text transform="translate(1092.7 919.3) rotate(-90) scale(0.935 1)" font-family="'Liberation Serif', 'DejaVu Serif', serif" font-size="42.4" font-style="italic" fill="#000" stroke="#000" stroke-width="0.5" stroke-linejoin="round">EC</text>
</g>
<path d="M1111.0 1152.5H1164.1M1072.8 1152.5H1100.4" stroke="#000" stroke-width="3.2" fill="none"/>
<text font-family="'DejaVu Serif Condensed', 'DejaVu Serif', 'Liberation Serif', serif" font-size="42.5" fill="#000"><tspan x="1111.7" y="1131.0">4</tspan><tspan x="1137.6" y="1131.6" font-style="italic" font-family="'Liberation Serif', 'DejaVu Serif', serif" font-size="48.5" stroke="#000" stroke-width="0.5" stroke-linejoin="round">π</tspan><tspan x="1125.3" y="1196.1">3</tspan></text>
<path d="M1459.8 1153.2H1512.9" stroke="#000" stroke-width="3.2" fill="none"/>
<text font-family="'DejaVu Serif Condensed', 'DejaVu Serif', 'Liberation Serif', serif" font-size="42.5" fill="#000"><tspan x="1459.2" y="1131.7">2</tspan><tspan x="1486.4" y="1132.3" font-style="italic" font-family="'Liberation Serif', 'DejaVu Serif', serif" font-size="48.5" stroke="#000" stroke-width="0.5" stroke-linejoin="round">π</tspan><tspan x="1474.1" y="1196.8">3</tspan></text>
<g id="panel-h">
<rect x="1617.4" y="724.1" width="369.0" height="361.5" fill="#fff" stroke="#262626" stroke-width="2.9"/>
<path d="M1617.4 769.0h5.3M1617.4 1040.5h5.3M1986.4 769.0h-5.3M1986.4 1040.5h-5.3" stroke="#262626" stroke-width="2.6" fill="none"/>
<path d="M1617.4 904.8L1620.5 900.2L1623.6 895.7L1626.6 891.2L1629.7 886.6L1632.8 882.1L1635.9 877.6L1638.9 873.1L1642.0 868.5L1645.1 864.0L1648.2 859.5L1651.2 854.9L1654.3 850.4L1657.4 845.9L1660.5 841.4L1663.5 836.9L1666.6 832.4L1669.7 827.9L1672.8 823.5L1675.8 819.1L1678.9 814.7L1682.0 810.4L1685.1 806.2L1688.1 802.0L1691.2 798.0L1694.3 794.1L1697.4 790.4L1700.4 786.8L1703.5 783.4L1706.6 780.2L1709.7 777.3L1712.7 774.7L1715.8 772.4L1718.9 770.5L1722.0 768.9L1725.0 767.7L1728.1 767.0L1731.2 766.7L1734.2 767.0L1737.3 767.7L1740.4 769.0L1743.5 770.8L1746.6 773.3L1749.6 776.3L1752.7 779.9L1755.8 784.1L1758.9 788.9L1761.9 794.3L1765.0 800.2L1768.1 806.7L1771.2 813.8L1774.2 821.3L1777.3 829.3L1780.4 837.7L1783.5 846.6L1786.5 855.7L1789.6 865.2L1792.7 874.9L1795.8 884.7L1798.8 894.7L1801.9 904.7L1805.0 914.8L1808.1 924.8L1811.1 934.6L1814.2 944.3L1817.3 953.8L1820.4 962.9L1823.4 971.8L1826.5 980.2L1829.6 988.2L1832.7 995.7L1835.7 1002.8L1838.8 1009.3L1841.9 1015.2L1845.0 1020.6L1848.0 1025.4L1851.1 1029.6L1854.2 1033.2L1857.2 1036.2L1860.3 1038.7L1863.4 1040.5L1866.5 1041.8L1869.6 1042.5L1872.6 1042.8L1875.7 1042.5L1878.8 1041.8L1881.9 1040.6L1884.9 1039.0L1888.0 1037.1L1891.1 1034.8L1894.2 1032.2L1897.2 1029.3L1900.3 1026.1L1903.4 1022.7L1906.5 1019.1L1909.5 1015.4L1912.6 1011.5L1915.7 1007.5L1918.8 1003.3L1921.8 999.1L1924.9 994.8L1928.0 990.4L1931.1 986.0L1934.1 981.6L1937.2 977.1L1940.3 972.6L1943.4 968.1L1946.4 963.6L1949.5 959.1L1952.6 954.6L1955.7 950.0L1958.7 945.5L1961.8 941.0L1964.9 936.4L1968.0 931.9L1971.0 927.4L1974.1 922.9L1977.2 918.3L1980.2 913.8L1983.3 909.3L1986.4 904.8" fill="none" stroke="#000" stroke-width="1.9" stroke-linejoin="round"/>
<g fill="#fff" stroke="#000" stroke-width="2"><circle cx="1617.4" cy="904.8" r="6.25"/><circle cx="1632.5" cy="882.6" r="6.25"/><circle cx="1647.5" cy="860.4" r="6.25"/><circle cx="1662.6" cy="838.2" r="6.25"/><circle cx="1677.7" cy="816.4" r="6.25"/><circle cx="1692.8" cy="796.0" r="6.25"/><circle cx="1707.8" cy="779.0" r="6.25"/><circle cx="1722.9" cy="768.5" r="6.25"/><circle cx="1738.0" cy="767.9" r="6.25"/><circle cx="1753.0" cy="780.3" r="6.25"/><circle cx="1768.1" cy="806.8" r="6.25"/><circle cx="1783.2" cy="845.7" r="6.25"/><circle cx="1798.2" cy="892.8" r="6.25"/><circle cx="1813.3" cy="941.5" r="6.25"/><circle cx="1828.4" cy="985.1" r="6.25"/><circle cx="1843.5" cy="1018.1" r="6.25"/><circle cx="1858.5" cy="1037.3" r="6.25"/><circle cx="1873.6" cy="1042.7" r="6.25"/><circle cx="1888.7" cy="1036.6" r="6.25"/><circle cx="1903.7" cy="1022.3" r="6.25"/><circle cx="1918.8" cy="1003.3" r="6.25"/><circle cx="1933.9" cy="982.0" r="6.25"/><circle cx="1948.9" cy="959.9" r="6.25"/><circle cx="1964.0" cy="937.7" r="6.25"/><circle cx="1979.1" cy="915.5" r="6.25"/></g>
<g fill="#808080" stroke="#000" stroke-width="2.1"><rect x="1612.2" y="899.6" width="10.3" height="10.3"/><rect x="1673.8" y="809.6" width="10.3" height="10.3"/><rect x="1735.2" y="763.8" width="10.3" height="10.3"/><rect x="1796.8" y="899.6" width="10.3" height="10.3"/><rect x="1858.2" y="1035.4" width="10.3" height="10.3"/><rect x="1919.8" y="989.6" width="10.3" height="10.3"/><rect x="1981.2" y="899.6" width="10.3" height="10.3"/></g>
<rect x="1618.8" y="843.8" width="37.9" height="117.0" fill="#FF00FF" fill-opacity="0.12"/>
<text x="1581.09" y="781.97" font-family="'DejaVu Serif Condensed', 'DejaVu Serif', 'Liberation Serif', serif" font-size="43.00" fill="#000">5</text>
<text x="1581.95" y="1054.12" font-family="'DejaVu Serif Condensed', 'DejaVu Serif', 'Liberation Serif', serif" font-size="43.00" fill="#000">2</text>
<text transform="translate(1578.5 953.4) rotate(-90) scale(1.040 1)" font-family="'Liberation Serif', 'DejaVu Serif', serif" font-size="60.3" font-style="italic" fill="#000" stroke="#000" stroke-width="0.5" stroke-linejoin="round">S</text>
<text transform="translate(1591.0 922.4) rotate(-90) scale(0.942 1)" font-family="'Liberation Serif', 'DejaVu Serif', serif" font-size="42.4" font-style="italic" fill="#000" stroke="#000" stroke-width="0.5" stroke-linejoin="round">EC</text>
</g>
<path d="M1609.8 1152.5H1662.9M1571.6 1152.5H1599.2" stroke="#000" stroke-width="3.2" fill="none"/>
<text font-family="'DejaVu Serif Condensed', 'DejaVu Serif', 'Liberation Serif', serif" font-size="42.5" fill="#000"><tspan x="1610.5" y="1131.0">4</tspan><tspan x="1636.4" y="1131.6" font-style="italic" font-family="'Liberation Serif', 'DejaVu Serif', serif" font-size="48.5" stroke="#000" stroke-width="0.5" stroke-linejoin="round">π</tspan><tspan x="1624.1" y="1196.1">3</tspan></text>
<path d="M1952.1 1153.2H2005.2" stroke="#000" stroke-width="3.2" fill="none"/>
<text font-family="'DejaVu Serif Condensed', 'DejaVu Serif', 'Liberation Serif', serif" font-size="42.5" fill="#000"><tspan x="1951.5" y="1131.7">2</tspan><tspan x="1978.7" y="1132.3" font-style="italic" font-family="'Liberation Serif', 'DejaVu Serif', serif" font-size="48.5" stroke="#000" stroke-width="0.5" stroke-linejoin="round">π</tspan><tspan x="1966.4" y="1196.8">3</tspan></text>
<g id="panel-i">
<path d="M121.8 1303.4h3.6M121.8 1496.3h3.6M487.7 1303.4h-3.6M487.7 1496.3h-3.6" stroke="#262626" stroke-width="2.6" fill="none"/>
<g fill="#1A1A1A" stroke="#000" stroke-width="0.8"><circle cx="120.0" cy="1399.8" r="6.8"/><circle cx="144.6" cy="1407.6" r="6.8"/><circle cx="169.3" cy="1415.3" r="6.8"/><circle cx="193.9" cy="1423.0" r="6.8"/><circle cx="218.6" cy="1430.7" r="6.8"/><circle cx="243.2" cy="1438.4" r="6.8"/><circle cx="267.8" cy="1446.1" r="6.8"/><circle cx="292.5" cy="1453.9" r="6.8"/><circle cx="317.1" cy="1461.6" r="6.8"/><circle cx="341.8" cy="1469.3" r="6.8"/><circle cx="366.4" cy="1477.0" r="6.8"/><circle cx="391.0" cy="1484.7" r="6.8"/><circle cx="415.7" cy="1492.4" r="6.8"/><circle cx="440.3" cy="1500.2" r="6.8"/><circle cx="465.0" cy="1507.9" r="6.8"/><circle cx="489.6" cy="1515.6" r="6.8"/></g>
<path d="M120.0 1399.8L135.4 1404.3L150.8 1408.7L166.2 1413.2L181.6 1417.6L197.0 1422.0L212.4 1426.5L227.8 1430.9L243.2 1435.3L258.6 1439.7L274.0 1444.1L289.4 1448.4L304.8 1452.8L320.2 1457.1L335.6 1461.4L351.0 1465.7L366.4 1470.0L381.8 1474.2L397.2 1478.4L412.6 1482.6L428.0 1486.7L443.4 1490.9L458.8 1494.9L474.2 1499.0L489.6 1503.0" fill="none" stroke="#000" stroke-width="1.9"/>
<path fill-rule="evenodd" fill="#FF8080" d="M116.4 1261.3H493.0V1537.9H116.4ZM121.8 1267.1V1532.1H487.7V1267.1Z"/>
<text x="85.72" y="1317.52" font-family="'DejaVu Serif Condensed', 'DejaVu Serif', 'Liberation Serif', serif" font-size="43.00" fill="#000">4</text>
<text x="86.58" y="1510.09" font-family="'DejaVu Serif Condensed', 'DejaVu Serif', 'Liberation Serif', serif" font-size="43.00" fill="#000">3</text>
<text transform="translate(81.2 1449.0) rotate(-90) scale(0.933 1)" font-family="'Liberation Serif', 'DejaVu Serif', serif" font-size="60.3" font-style="italic" fill="#000" stroke="#000" stroke-width="0.5" stroke-linejoin="round">X</text>
<text transform="translate(93.8 1413.0) rotate(-90) scale(0.939 1)" font-family="'Liberation Serif', 'DejaVu Serif', serif" font-size="42.5" font-style="italic" fill="#000" stroke="#000" stroke-width="0.5" stroke-linejoin="round">EC</text>
</g>
<path d="M110.0 1599.7H163.1M71.8 1599.7H99.4" stroke="#000" stroke-width="3.2" fill="none"/>
<text font-family="'DejaVu Serif Condensed', 'DejaVu Serif', 'Liberation Serif', serif" font-size="42.5" fill="#000"><tspan x="110.7" y="1578.2">4</tspan><tspan x="136.6" y="1578.8" font-style="italic" font-family="'Liberation Serif', 'DejaVu Serif', serif" font-size="48.5" stroke="#000" stroke-width="0.5" stroke-linejoin="round">π</tspan><tspan x="124.3" y="1643.3">3</tspan></text>
<path d="M457.1 1599.9H535.4M418.9 1599.9H446.5" stroke="#000" stroke-width="3.2" fill="none"/>
<text font-family="'DejaVu Serif Condensed', 'DejaVu Serif', 'Liberation Serif', serif" font-size="42.5" fill="#000"><tspan x="456.4" y="1578.4" letter-spacing="2.6">17</tspan><tspan x="508.9" y="1579.0" font-style="italic" font-family="'Liberation Serif', 'DejaVu Serif', serif" font-size="48.5" stroke="#000" stroke-width="0.5" stroke-linejoin="round">π</tspan><tspan x="470.1" y="1643.5" letter-spacing="2">15</tspan></text>
<text font-family="'DejaVu Serif', 'Liberation Serif', serif" font-style="italic" font-size="62.3" fill="#000" stroke="#fff" stroke-width="0.7"><tspan x="269.8" y="1644.4">φ</tspan><tspan x="309.1" y="1657.5" font-size="48.0">n</tspan></text>
<g id="panel-j">
<path d="M622.1 1303.4h3.6M622.1 1496.3h3.6M986.2 1303.4h-3.6M986.2 1496.3h-3.6" stroke="#262626" stroke-width="2.6" fill="none"/>
<g fill="#1A1A1A" stroke="#000" stroke-width="0.8"><circle cx="619.1" cy="1399.8" r="6.8"/><circle cx="643.7" cy="1392.1" r="6.8"/><circle cx="668.4" cy="1384.4" r="6.8"/><circle cx="693.0" cy="1376.7" r="6.8"/><circle cx="717.6" cy="1369.0" r="6.8"/><circle cx="742.3" cy="1361.3" r="6.8"/><circle cx="766.9" cy="1353.6" r="6.8"/><circle cx="791.5" cy="1345.8" r="6.8"/><circle cx="816.2" cy="1338.1" r="6.8"/><circle cx="840.8" cy="1330.4" r="6.8"/><circle cx="865.4" cy="1322.7" r="6.8"/><circle cx="890.1" cy="1315.0" r="6.8"/><circle cx="914.7" cy="1307.3" r="6.8"/><circle cx="939.3" cy="1299.5" r="6.8"/><circle cx="964.0" cy="1291.8" r="6.8"/><circle cx="988.6" cy="1284.1" r="6.8"/></g>
<path d="M619.1 1399.8L634.5 1395.0L649.9 1390.1L665.3 1385.3L680.7 1380.5L696.1 1375.6L711.5 1370.8L726.9 1366.0L742.3 1361.2L757.7 1356.4L773.1 1351.6L788.5 1346.8L803.9 1342.1L819.2 1337.4L834.6 1332.7L850.0 1328.0L865.4 1323.3L880.8 1318.7L896.2 1314.1L911.6 1309.5L927.0 1305.0L942.4 1300.5L957.8 1296.0L973.2 1291.6L988.6 1287.2" fill="none" stroke="#000" stroke-width="1.9"/>
<path fill-rule="evenodd" fill="#AFCAA1" d="M617.1 1263.2H991.8V1538.8H617.1ZM622.1 1268.9V1533.1H986.2V1268.9Z"/>
<text x="584.82" y="1317.52" font-family="'DejaVu Serif Condensed', 'DejaVu Serif', 'Liberation Serif', serif" font-size="43.00" fill="#000">4</text>
<text x="585.68" y="1510.09" font-family="'DejaVu Serif Condensed', 'DejaVu Serif', 'Liberation Serif', serif" font-size="43.00" fill="#000">3</text>
<text transform="translate(579.8 1446.6) rotate(-90) scale(0.897 1)" font-family="'Liberation Serif', 'DejaVu Serif', serif" font-size="60.0" font-style="italic" fill="#000" stroke="#000" stroke-width="0.5" stroke-linejoin="round">Y</text>
<text transform="translate(592.7 1418.1) rotate(-90) scale(0.930 1)" font-family="'Liberation Serif', 'DejaVu Serif', serif" font-size="42.8" font-style="italic" fill="#000" stroke="#000" stroke-width="0.5" stroke-linejoin="round">EC</text>
</g>
<path d="M610.0 1599.7H663.1M571.8 1599.7H599.4" stroke="#000" stroke-width="3.2" fill="none"/>
<text font-family="'DejaVu Serif Condensed', 'DejaVu Serif', 'Liberation Serif', serif" font-size="42.5" fill="#000"><tspan x="610.7" y="1578.2">4</tspan><tspan x="636.6" y="1578.8" font-style="italic" font-family="'Liberation Serif', 'DejaVu Serif', serif" font-size="48.5" stroke="#000" stroke-width="0.5" stroke-linejoin="round">π</tspan><tspan x="624.3" y="1643.3">3</tspan></text>
<path d="M956.9 1599.9H1035.2M918.7 1599.9H946.3" stroke="#000" stroke-width="3.2" fill="none"/>
<text font-family="'DejaVu Serif Condensed', 'DejaVu Serif', 'Liberation Serif', serif" font-size="42.5" fill="#000"><tspan x="956.2" y="1578.4" letter-spacing="2.6">17</tspan><tspan x="1008.7" y="1579.0" font-style="italic" font-family="'Liberation Serif', 'DejaVu Serif', serif" font-size="48.5" stroke="#000" stroke-width="0.5" stroke-linejoin="round">π</tspan><tspan x="969.9" y="1643.5" letter-spacing="2">15</tspan></text>
<text font-family="'DejaVu Serif', 'Liberation Serif', serif" font-style="italic" font-size="62.3" fill="#000" stroke="#fff" stroke-width="0.7"><tspan x="772.6" y="1644.4">φ</tspan><tspan x="811.9" y="1657.5" font-size="48.0">n</tspan></text>
<g id="panel-k">
<path d="M1121.1 1303.4h3.6M1121.1 1496.3h3.6M1485.1 1303.4h-3.6M1485.1 1496.3h-3.6" stroke="#262626" stroke-width="2.6" fill="none"/>
<g fill="#1A1A1A" stroke="#000" stroke-width="0.8"><circle cx="1118.3" cy="1399.8" r="6.8"/><circle cx="1142.9" cy="1407.6" r="6.8"/><circle cx="1167.5" cy="1415.3" r="6.8"/><circle cx="1192.1" cy="1423.0" r="6.8"/><circle cx="1216.8" cy="1430.7" r="6.8"/><circle cx="1241.4" cy="1438.4" r="6.8"/><circle cx="1266.0" cy="1446.1" r="6.8"/><circle cx="1290.6" cy="1453.9" r="6.8"/><circle cx="1315.2" cy="1461.6" r="6.8"/><circle cx="1339.8" cy="1469.3" r="6.8"/><circle cx="1364.4" cy="1477.0" r="6.8"/><circle cx="1389.0" cy="1484.7" r="6.8"/><circle cx="1413.7" cy="1492.4" r="6.8"/><circle cx="1438.3" cy="1500.2" r="6.8"/><circle cx="1462.9" cy="1507.9" r="6.8"/><circle cx="1487.5" cy="1515.6" r="6.8"/></g>
<path d="M1118.3 1399.8L1133.7 1404.7L1149.1 1409.5L1164.5 1414.3L1179.8 1419.2L1195.2 1424.0L1210.6 1428.8L1226.0 1433.7L1241.4 1438.5L1256.8 1443.3L1272.1 1448.1L1287.5 1452.9L1302.9 1457.7L1318.3 1462.5L1333.7 1467.3L1349.0 1472.1L1364.4 1476.8L1379.8 1481.6L1395.2 1486.4L1410.6 1491.1L1426.0 1495.8L1441.3 1500.5L1456.7 1505.2L1472.1 1509.9L1487.5 1514.6" fill="none" stroke="#000" stroke-width="1.9"/>
<path fill-rule="evenodd" fill="#7EB2D2" d="M1116.1 1263.2H1490.7V1538.8H1116.1ZM1121.1 1267.9V1533.2H1485.1V1267.9Z"/>
<text x="1084.02" y="1317.52" font-family="'DejaVu Serif Condensed', 'DejaVu Serif', 'Liberation Serif', serif" font-size="43.00" fill="#000">4</text>
<text x="1084.88" y="1510.09" font-family="'DejaVu Serif Condensed', 'DejaVu Serif', 'Liberation Serif', serif" font-size="43.00" fill="#000">3</text>
<text transform="translate(1080.2 1450.5) rotate(-90) scale(1.016 1)" font-family="'Liberation Serif', 'DejaVu Serif', serif" font-size="60.2" font-style="italic" fill="#000" stroke="#000" stroke-width="0.5" stroke-linejoin="round">Z</text>
<text transform="translate(1092.7 1414.0) rotate(-90) scale(0.935 1)" font-family="'Liberation Serif', 'DejaVu Serif', serif" font-size="42.4" font-style="italic" fill="#000" stroke="#000" stroke-width="0.5" stroke-linejoin="round">EC</text>
</g>
<path d="M1111.0 1599.7H1164.1M1072.8 1599.7H1100.4" stroke="#000" stroke-width="3.2" fill="none"/>
<text font-family="'DejaVu Serif Condensed', 'DejaVu Serif', 'Liberation Serif', serif" font-size="42.5" fill="#000"><tspan x="1111.7" y="1578.2">4</tspan><tspan x="1137.6" y="1578.8" font-style="italic" font-family="'Liberation Serif', 'DejaVu Serif', serif" font-size="48.5" stroke="#000" stroke-width="0.5" stroke-linejoin="round">π</tspan><tspan x="1125.3" y="1643.3">3</tspan></text>
<path d="M1453.6 1599.9H1531.9M1415.4 1599.9H1443.0" stroke="#000" stroke-width="3.2" fill="none"/>
<text font-family="'DejaVu Serif Condensed', 'DejaVu Serif', 'Liberation Serif', serif" font-size="42.5" fill="#000"><tspan x="1452.9" y="1578.4" letter-spacing="2.6">17</tspan><tspan x="1505.4" y="1579.0" font-style="italic" font-family="'Liberation Serif', 'DejaVu Serif', serif" font-size="48.5" stroke="#000" stroke-width="0.5" stroke-linejoin="round">π</tspan><tspan x="1466.6" y="1643.5" letter-spacing="2">15</tspan></text>
<text font-family="'DejaVu Serif', 'Liberation Serif', serif" font-style="italic" font-size="62.3" fill="#000" stroke="#fff" stroke-width="0.7"><tspan x="1268.3" y="1644.4">φ</tspan><tspan x="1307.6" y="1657.5" font-size="48.0">n</tspan></text>
<g id="panel-l">
<path d="M1621.8 1303.4h3.6M1621.8 1496.3h3.6M1984.8 1303.4h-3.6M1984.8 1496.3h-3.6" stroke="#262626" stroke-width="2.6" fill="none"/>
<g fill="#1A1A1A" stroke="#000" stroke-width="0.8"><circle cx="1617.2" cy="1399.8" r="6.8"/><circle cx="1641.8" cy="1392.1" r="6.8"/><circle cx="1666.4" cy="1384.4" r="6.8"/><circle cx="1691.0" cy="1376.7" r="6.8"/><circle cx="1715.7" cy="1369.0" r="6.8"/><circle cx="1740.3" cy="1361.3" r="6.8"/><circle cx="1764.9" cy="1353.6" r="6.8"/><circle cx="1789.5" cy="1345.8" r="6.8"/><circle cx="1814.1" cy="1338.1" r="6.8"/><circle cx="1838.7" cy="1330.4" r="6.8"/><circle cx="1863.3" cy="1322.7" r="6.8"/><circle cx="1887.9" cy="1315.0" r="6.8"/><circle cx="1912.6" cy="1307.3" r="6.8"/><circle cx="1937.2" cy="1299.5" r="6.8"/><circle cx="1961.8" cy="1291.8" r="6.8"/><circle cx="1986.4" cy="1284.1" r="6.8"/></g>
<path d="M1617.2 1399.8L1632.6 1395.0L1648.0 1390.2L1663.4 1385.4L1678.7 1380.6L1694.1 1375.7L1709.5 1370.9L1724.9 1366.1L1740.3 1361.2L1755.7 1356.4L1771.0 1351.6L1786.4 1346.8L1801.8 1341.9L1817.2 1337.1L1832.6 1332.3L1848.0 1327.5L1863.3 1322.6L1878.7 1317.8L1894.1 1313.0L1909.5 1308.1L1924.9 1303.3L1940.2 1298.5L1955.6 1293.7L1971.0 1288.8L1986.4 1284.0" fill="none" stroke="#000" stroke-width="1.9"/>
<path fill-rule="evenodd" fill="#FFB0FF" d="M1615.4 1263.2H1990.9V1538.8H1615.4ZM1621.8 1268.0V1533.1H1984.8V1268.0Z"/>
<text x="1582.92" y="1317.52" font-family="'DejaVu Serif Condensed', 'DejaVu Serif', 'Liberation Serif', serif" font-size="43.00" fill="#000">4</text>
<text x="1583.79" y="1510.09" font-family="'DejaVu Serif Condensed', 'DejaVu Serif', 'Liberation Serif', serif" font-size="43.00" fill="#000">3</text>
<text transform="translate(1578.5 1448.1) rotate(-90) scale(1.040 1)" font-family="'Liberation Serif', 'DejaVu Serif', serif" font-size="60.3" font-style="italic" fill="#000" stroke="#000" stroke-width="0.5" stroke-linejoin="round">S</text>
<text transform="translate(1591.0 1417.1) rotate(-90) scale(0.942 1)" font-family="'Liberation Serif', 'DejaVu Serif', serif" font-size="42.4" font-style="italic" fill="#000" stroke="#000" stroke-width="0.5" stroke-linejoin="round">EC</text>
</g>
<path d="M1609.8 1599.7H1662.9M1571.6 1599.7H1599.2" stroke="#000" stroke-width="3.2" fill="none"/>
<text font-family="'DejaVu Serif Condensed', 'DejaVu Serif', 'Liberation Serif', serif" font-size="42.5" fill="#000"><tspan x="1610.5" y="1578.2">4</tspan><tspan x="1636.4" y="1578.8" font-style="italic" font-family="'Liberation Serif', 'DejaVu Serif', serif" font-size="48.5" stroke="#000" stroke-width="0.5" stroke-linejoin="round">π</tspan><tspan x="1624.1" y="1643.3">3</tspan></text>
<path d="M1955.2 1599.9H2033.5M1917.0 1599.9H1944.6" stroke="#000" stroke-width="3.2" fill="none"/>
<text font-family="'DejaVu Serif Condensed', 'DejaVu Serif', 'Liberation Serif', serif" font-size="42.5" fill="#000"><tspan x="1954.5" y="1578.4" letter-spacing="2.6">17</tspan><tspan x="2007.0" y="1579.0" font-style="italic" font-family="'Liberation Serif', 'DejaVu Serif', serif" font-size="48.5" stroke="#000" stroke-width="0.5" stroke-linejoin="round">π</tspan><tspan x="1968.2" y="1643.5" letter-spacing="2">15</tspan></text>
<text font-family="'DejaVu Serif', 'Liberation Serif', serif" font-style="italic" font-size="62.3" fill="#000" stroke="#fff" stroke-width="0.7"><tspan x="1770.5" y="1644.4">φ</tspan><tspan x="1809.8" y="1657.5" font-size="48.0">n</tspan></text>
<g id="legend">
<path d="M111.5 1717.1H149.3" stroke="#000" stroke-width="1.8"/>
<text x="150.42" y="1731.70" font-family="'Liberation Serif', 'DejaVu Serif', serif" font-size="46.15" fill="#000">Num. (Hyperbolic)</text>
<circle cx="635.1" cy="1716.3" r="8" fill="#fff" stroke="#000" stroke-width="2.3"/>
<text x="658.72" y="1731.70" font-family="'Liberation Serif', 'DejaVu Serif', serif" font-size="46.15" fill="#000">Num. (Euclidean)</text>
<rect x="1110.8" y="1711.4" width="15.2" height="15" fill="#808080" stroke="#000" stroke-width="2.2"/>
<text x="1139.08" y="1731.70" font-family="'Liberation Serif', 'DejaVu Serif', serif" font-size="46.15" fill="#000">Theor. (Hyperbolic)</text>
<circle cx="1628.8" cy="1719.5" r="9.7" fill="#1A1A1A"/>
<text x="1653.15" y="1731.70" font-family="'Liberation Serif', 'DejaVu Serif', serif" font-size="46.15" fill="#000">Quantized current</text>
</g>
<text x="1259.87" y="67.68" font-family="'Liberation Serif', 'DejaVu Serif', serif" font-size="69.60" fill="#000">(c)</text>
<text x="1259.87" y="326.88" font-family="'Liberation Serif', 'DejaVu Serif', serif" font-size="69.60" fill="#000">(d)</text>
<text x="45.87" y="695.88" font-family="'Liberation Serif', 'DejaVu Serif', serif" font-size="69.60" fill="#000">(e)</text>
<text x="548.37" y="695.88" font-family="'Liberation Serif', 'DejaVu Serif', serif" font-size="69.60" fill="#000">(f)</text>
<text x="1038.67" y="695.88" font-family="'Liberation Serif', 'DejaVu Serif', serif" font-size="69.60" fill="#000">(g)</text>
<text x="1540.07" y="695.88" font-family="'Liberation Serif', 'DejaVu Serif', serif" font-size="69.60" fill="#000">(h)</text>
<text x="46.17" y="1248.38" font-family="'Liberation Serif', 'DejaVu Serif', serif" font-size="69.60" fill="#000">(i)</text>
<text x="548.67" y="1248.38" font-family="'Liberation Serif', 'DejaVu Serif', serif" font-size="69.60" fill="#000">(j)</text>
<text x="1038.67" y="1248.38" font-family="'Liberation Serif', 'DejaVu Serif', serif" font-size="69.60" fill="#000">(k)</text>
<text x="1540.07" y="1248.38" font-family="'Liberation Serif', 'DejaVu Serif', serif" font-size="69.60" fill="#000">(l)</text>
<text x="45.77" y="67.68" font-family="'Liberation Serif', 'DejaVu Serif', serif" font-size="69.60" fill="#000">(a)</text>
</svg>
</body></html>
